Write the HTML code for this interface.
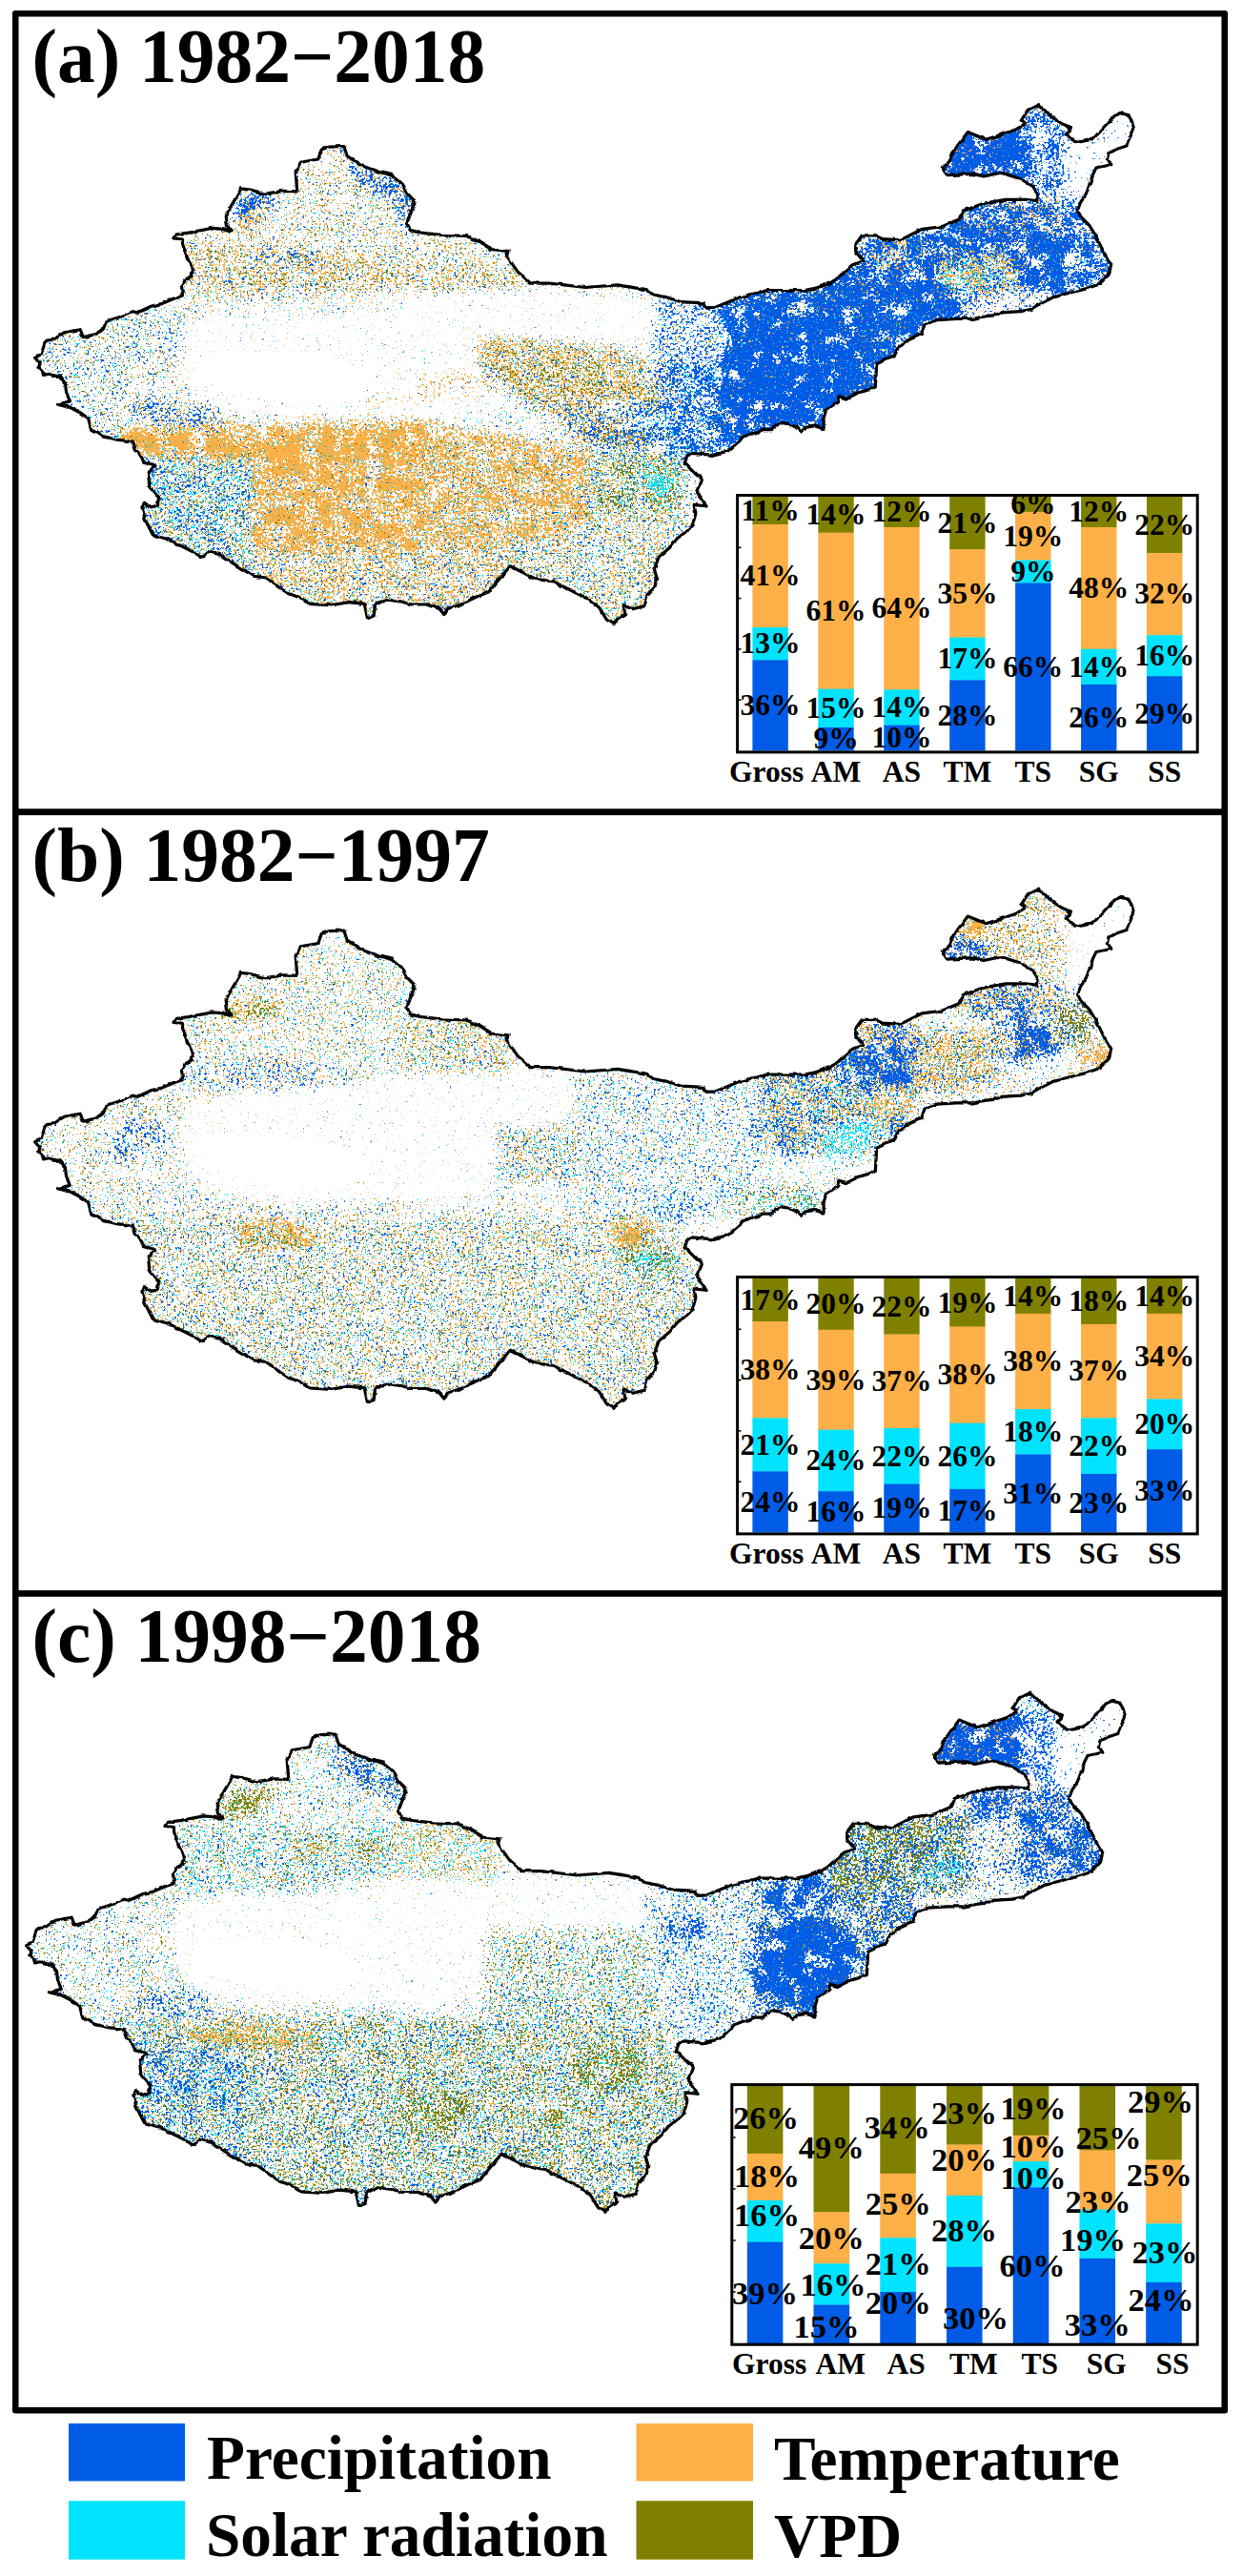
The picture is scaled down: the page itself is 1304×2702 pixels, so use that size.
<!DOCTYPE html>
<html><head><meta charset="utf-8"><title>figure</title>
<style>html,body{margin:0;padding:0;background:#fff;width:1304px;height:2702px;overflow:hidden}svg{display:block}</style>
</head><body>
<svg width="1304" height="2702" viewBox="0 0 1304 2702">
<rect width="1304" height="2702" fill="#fff"/>
<defs>
<clipPath id="mapclip"><path d="M36.6,375.3 L43.1,371.7 L46.7,359.6 L49.1,357.2 L56.4,356.0 L67.2,348.8 L84.1,345.6 L87.3,353.6 L102.2,350.0 L108.3,345.2 L111.9,336.7 L124.0,333.1 L138.4,326.6 L144.5,327.8 L159.0,321.0 L169.8,318.6 L184.3,312.6 L191.5,309.0 L190.3,299.3 L194.0,293.3 L201.2,289.6 L202.4,282.4 L196.4,270.3 L191.5,255.8 L191.5,251.0 L181.9,249.8 L184.3,246.2 L198.8,243.8 L222.9,239.4 L232.6,240.2 L241.0,242.6 L243.4,241.4 L237.4,237.7 L236.2,226.9 L253.1,197.9 L262.7,199.1 L278.4,203.2 L297.7,200.3 L311.8,200.8 L310.1,180.5 L315.2,170.4 L333.8,167.0 L337.2,156.9 L343.9,154.2 L360.8,153.5 L364.2,163.7 L379.4,173.8 L398.0,180.5 L411.5,183.9 L420.0,190.7 L426.7,202.5 L435.2,211.0 L431.8,221.1 L426.7,234.6 L430.1,241.4 L441.9,244.1 L462.2,246.4 L489.2,247.5 L502.7,253.2 L516.3,261.6 L533.1,263.3 L531.5,268.4 L543.3,285.3 L556.8,297.1 L577.1,297.1 L614.2,301.5 L648.0,298.8 L678.4,303.9 L685.2,309.0 L700.0,311.9 L714.5,316.7 L738.6,317.9 L741.0,322.8 L750.7,322.3 L770.0,314.3 L784.5,309.5 L806.2,304.6 L844.8,304.6 L864.1,299.8 L876.2,293.8 L885.8,285.3 L895.4,277.7 L905.7,273.8 L898.0,264.8 L896.7,257.1 L904.5,246.8 L918.6,246.8 L926.3,250.6 L944.4,251.9 L967.5,240.3 L988.1,237.7 L1006.2,230.0 L1011.3,221.0 L1031.9,213.3 L1055.1,209.4 L1075.7,209.4 L1087.3,210.7 L1088.5,203.0 L1083.4,195.3 L1070.5,187.5 L1049.9,181.1 L1031.9,185.0 L1021.6,182.4 L993.3,183.7 L989.4,176.0 L995.9,169.5 L999.7,159.2 L1015.2,138.6 L1034.5,146.3 L1049.9,141.2 L1065.4,136.0 L1075.7,129.6 L1071.8,125.7 L1078.2,115.4 L1089.7,109.7 L1093.3,113.3 L1103.9,123.0 L1114.5,130.1 L1123.4,133.6 L1121.6,138.1 L1118.1,140.7 L1125.1,146.9 L1134.0,148.7 L1146.4,146.0 L1157.0,134.5 L1165.8,124.8 L1174.7,118.6 L1183.5,120.4 L1187.1,126.5 L1189.7,135.4 L1186.2,142.5 L1181.8,153.1 L1171.2,156.6 L1164.1,160.2 L1162.3,167.3 L1165.8,172.6 L1158.8,174.3 L1149.9,176.1 L1146.4,183.2 L1142.8,193.8 L1139.3,204.4 L1134.0,211.5 L1130.4,220.4 L1134.0,227.4 L1142.8,236.3 L1149.1,246.8 L1158.1,264.8 L1165.8,277.7 L1163.2,288.0 L1152.9,298.3 L1137.5,303.4 L1116.9,308.5 L1104.0,312.4 L1091.1,318.8 L1083.4,324.0 L1070.5,326.6 L1049.9,327.9 L1047.4,330.4 L1034.5,331.7 L1021.6,334.3 L1003.6,334.3 L983.0,335.6 L970.3,339.6 L966.7,350.5 L953.4,356.5 L942.6,362.6 L938.9,372.2 L926.9,378.3 L919.6,381.9 L918.4,404.8 L912.4,408.4 L900.3,412.1 L888.3,418.1 L879.8,415.7 L878.6,421.7 L866.5,430.2 L864.1,438.6 L864.1,449.5 L854.5,447.0 L844.8,448.3 L840.0,453.1 L835.2,448.3 L827.9,444.6 L820.7,443.4 L813.4,447.0 L808.6,450.7 L799.0,450.7 L791.7,454.3 L779.6,457.9 L774.9,463.4 L763.6,473.1 L747.6,477.3 L726.6,475.4 L720.5,478.4 L718.1,485.7 L724.1,491.7 L731.4,498.9 L734.7,498.8 L736.3,503.7 L731.5,516.5 L736.3,524.6 L741.1,531.0 L728.2,529.4 L729.8,539.1 L726.6,550.3 L718.6,558.4 L710.5,564.8 L702.5,574.5 L691.2,584.1 L686.4,597.0 L689.6,608.3 L686.4,616.3 L678.4,626.0 L676.7,635.6 L663.9,638.8 L654.2,635.6 L655.8,643.7 L647.8,649.1 L644.6,654.9 L636.5,650.1 L628.5,637.2 L618.8,629.2 L599.5,619.5 L580.2,609.9 L560.9,607.3 L548.0,600.2 L535.2,593.8 L527.1,603.4 L519.1,613.1 L512.6,621.1 L499.8,626.0 L483.7,634.0 L469.2,638.8 L466.0,644.6 L461.1,638.8 L448.3,634.0 L432.2,634.0 L419.3,630.8 L404.7,628.5 L393.5,634.9 L391.9,646.2 L385.4,647.8 L382.2,633.3 L366.1,631.7 L346.8,634.9 L324.3,633.3 L314.6,626.9 L301.7,622.0 L292.1,615.6 L279.2,606.0 L266.4,604.3 L250.3,594.7 L231.0,581.8 L218.1,578.6 L211.6,585.0 L205.2,580.2 L192.3,573.8 L176.2,565.7 L160.2,560.9 L152.1,544.8 L148.9,531.9 L152.1,527.1 L158.5,531.9 L165.0,530.3 L166.6,522.3 L156.9,511.0 L155.3,494.9 L163.4,488.5 L150.5,483.7 L142.5,472.4 L139.2,462.8 L121.5,461.1 L108.7,457.9 L95.8,451.5 L92.6,438.6 L82.9,432.2 L73.3,427.4 L60.4,424.1 L73.3,420.9 L70.1,412.9 L69.7,412.7 L68.4,401.9 L63.6,395.8 L51.5,392.2 L45.5,393.4 L44.3,388.6 L40.7,385.0 L41.9,381.4 Z"/></clipPath>
<filter id="faB" filterUnits="userSpaceOnUse" x="25" y="100" width="1175" height="565" color-interpolation-filters="sRGB">
<feColorMatrix in="SourceGraphic" type="matrix" values="0 0 0 0 0 0 0 0 0 0 0 0 0 0 0 1 0 0 0 0" result="d0"/>
<feGaussianBlur in="d0" stdDeviation="6" result="d"/>
<feTurbulence type="fractalNoise" baseFrequency="0.35" numOctaves="2" seed="11" result="t"/>
<feColorMatrix in="t" type="matrix" values="0 0 0 0 0 0 0 0 0 0 0 0 0 0 0 1 0 0 0 0" result="ta0"/>
<feComponentTransfer in="ta0" result="ta"><feFuncA type="table" tableValues="0.000 0.000 0.000 0.000 0.000 0.000 0.000 0.001 0.003 0.007 0.014 0.028 0.047 0.072 0.111 0.153 0.210 0.266 0.329 0.409 0.476 0.593 0.674 0.737 0.800 0.848 0.888 0.926 0.952 0.970 0.985 0.992 0.996 0.998 1.000 1.000 1.000 1.000 1.000 1.000 1.000"/></feComponentTransfer>
<feTurbulence type="fractalNoise" baseFrequency="0.06" numOctaves="3" seed="18" result="lt"/>
<feColorMatrix in="lt" type="matrix" values="0 0 0 0 0 0 0 0 0 0 0 0 0 0 0 1.5 0 0 0 -0.25" result="lf"/>
<feComposite in="d" in2="lf" operator="arithmetic" k1="4" k2="0" k3="0" k4="0" result="dm"/>
<feComposite in="dm" in2="ta" operator="arithmetic" k1="0" k2="1" k3="-1" k4="0" result="df"/>
<feComponentTransfer in="df" result="m"><feFuncA type="linear" slope="60" intercept="0"/></feComponentTransfer>
<feFlood flood-color="#005ce6" result="fl"/>
<feComposite in="fl" in2="m" operator="in"/>
</filter>
<filter id="faO" filterUnits="userSpaceOnUse" x="25" y="100" width="1175" height="565" color-interpolation-filters="sRGB">
<feColorMatrix in="SourceGraphic" type="matrix" values="0 0 0 0 0 0 0 0 0 0 0 0 0 0 0 1 0 0 0 0" result="d0"/>
<feGaussianBlur in="d0" stdDeviation="6" result="d"/>
<feTurbulence type="fractalNoise" baseFrequency="0.35" numOctaves="2" seed="23" result="t"/>
<feColorMatrix in="t" type="matrix" values="0 0 0 0 0 0 0 0 0 0 0 0 0 0 0 1 0 0 0 0" result="ta0"/>
<feComponentTransfer in="ta0" result="ta"><feFuncA type="table" tableValues="0.000 0.000 0.000 0.000 0.000 0.000 0.000 0.001 0.003 0.007 0.014 0.028 0.047 0.072 0.111 0.153 0.210 0.266 0.329 0.409 0.476 0.593 0.674 0.737 0.800 0.848 0.888 0.926 0.952 0.970 0.985 0.992 0.996 0.998 1.000 1.000 1.000 1.000 1.000 1.000 1.000"/></feComponentTransfer>
<feTurbulence type="fractalNoise" baseFrequency="0.06" numOctaves="3" seed="30" result="lt"/>
<feColorMatrix in="lt" type="matrix" values="0 0 0 0 0 0 0 0 0 0 0 0 0 0 0 1.5 0 0 0 -0.25" result="lf"/>
<feComposite in="d" in2="lf" operator="arithmetic" k1="4" k2="0" k3="0" k4="0" result="dm"/>
<feComposite in="dm" in2="ta" operator="arithmetic" k1="0" k2="1" k3="-1" k4="0" result="df"/>
<feComponentTransfer in="df" result="m"><feFuncA type="linear" slope="60" intercept="0"/></feComponentTransfer>
<feFlood flood-color="#fdb047" result="fl"/>
<feComposite in="fl" in2="m" operator="in"/>
</filter>
<filter id="faL" filterUnits="userSpaceOnUse" x="25" y="100" width="1175" height="565" color-interpolation-filters="sRGB">
<feColorMatrix in="SourceGraphic" type="matrix" values="0 0 0 0 0 0 0 0 0 0 0 0 0 0 0 1 0 0 0 0" result="d0"/>
<feGaussianBlur in="d0" stdDeviation="6" result="d"/>
<feTurbulence type="fractalNoise" baseFrequency="0.4" numOctaves="2" seed="37" result="t"/>
<feColorMatrix in="t" type="matrix" values="0 0 0 0 0 0 0 0 0 0 0 0 0 0 0 1 0 0 0 0" result="ta0"/>
<feComponentTransfer in="ta0" result="ta"><feFuncA type="table" tableValues="0.000 0.000 0.000 0.000 0.000 0.000 0.000 0.001 0.003 0.007 0.014 0.028 0.047 0.072 0.111 0.153 0.210 0.266 0.329 0.409 0.476 0.593 0.674 0.737 0.800 0.848 0.888 0.926 0.952 0.970 0.985 0.992 0.996 0.998 1.000 1.000 1.000 1.000 1.000 1.000 1.000"/></feComponentTransfer>
<feTurbulence type="fractalNoise" baseFrequency="0.06" numOctaves="3" seed="44" result="lt"/>
<feColorMatrix in="lt" type="matrix" values="0 0 0 0 0 0 0 0 0 0 0 0 0 0 0 1.5 0 0 0 -0.25" result="lf"/>
<feComposite in="d" in2="lf" operator="arithmetic" k1="4" k2="0" k3="0" k4="0" result="dm"/>
<feComposite in="dm" in2="ta" operator="arithmetic" k1="0" k2="1" k3="-1" k4="0" result="df"/>
<feComponentTransfer in="df" result="m"><feFuncA type="linear" slope="60" intercept="0"/></feComponentTransfer>
<feFlood flood-color="#808000" result="fl"/>
<feComposite in="fl" in2="m" operator="in"/>
</filter>
<filter id="faC" filterUnits="userSpaceOnUse" x="25" y="100" width="1175" height="565" color-interpolation-filters="sRGB">
<feColorMatrix in="SourceGraphic" type="matrix" values="0 0 0 0 0 0 0 0 0 0 0 0 0 0 0 1 0 0 0 0" result="d0"/>
<feGaussianBlur in="d0" stdDeviation="6" result="d"/>
<feTurbulence type="fractalNoise" baseFrequency="0.4" numOctaves="2" seed="41" result="t"/>
<feColorMatrix in="t" type="matrix" values="0 0 0 0 0 0 0 0 0 0 0 0 0 0 0 1 0 0 0 0" result="ta0"/>
<feComponentTransfer in="ta0" result="ta"><feFuncA type="table" tableValues="0.000 0.000 0.000 0.000 0.000 0.000 0.000 0.001 0.003 0.007 0.014 0.028 0.047 0.072 0.111 0.153 0.210 0.266 0.329 0.409 0.476 0.593 0.674 0.737 0.800 0.848 0.888 0.926 0.952 0.970 0.985 0.992 0.996 0.998 1.000 1.000 1.000 1.000 1.000 1.000 1.000"/></feComponentTransfer>
<feTurbulence type="fractalNoise" baseFrequency="0.06" numOctaves="3" seed="48" result="lt"/>
<feColorMatrix in="lt" type="matrix" values="0 0 0 0 0 0 0 0 0 0 0 0 0 0 0 1.5 0 0 0 -0.25" result="lf"/>
<feComposite in="d" in2="lf" operator="arithmetic" k1="4" k2="0" k3="0" k4="0" result="dm"/>
<feComposite in="dm" in2="ta" operator="arithmetic" k1="0" k2="1" k3="-1" k4="0" result="df"/>
<feComponentTransfer in="df" result="m"><feFuncA type="linear" slope="60" intercept="0"/></feComponentTransfer>
<feFlood flood-color="#00e3ff" result="fl"/>
<feComposite in="fl" in2="m" operator="in"/>
</filter>
<filter id="fbB" filterUnits="userSpaceOnUse" x="25" y="100" width="1175" height="565" color-interpolation-filters="sRGB">
<feColorMatrix in="SourceGraphic" type="matrix" values="0 0 0 0 0 0 0 0 0 0 0 0 0 0 0 1 0 0 0 0" result="d0"/>
<feGaussianBlur in="d0" stdDeviation="6" result="d"/>
<feTurbulence type="fractalNoise" baseFrequency="0.35" numOctaves="2" seed="111" result="t"/>
<feColorMatrix in="t" type="matrix" values="0 0 0 0 0 0 0 0 0 0 0 0 0 0 0 1 0 0 0 0" result="ta0"/>
<feComponentTransfer in="ta0" result="ta"><feFuncA type="table" tableValues="0.000 0.000 0.000 0.000 0.000 0.000 0.000 0.001 0.003 0.007 0.014 0.028 0.047 0.072 0.111 0.153 0.210 0.266 0.329 0.409 0.476 0.593 0.674 0.737 0.800 0.848 0.888 0.926 0.952 0.970 0.985 0.992 0.996 0.998 1.000 1.000 1.000 1.000 1.000 1.000 1.000"/></feComponentTransfer>
<feTurbulence type="fractalNoise" baseFrequency="0.06" numOctaves="3" seed="118" result="lt"/>
<feColorMatrix in="lt" type="matrix" values="0 0 0 0 0 0 0 0 0 0 0 0 0 0 0 1.5 0 0 0 -0.25" result="lf"/>
<feComposite in="d" in2="lf" operator="arithmetic" k1="4" k2="0" k3="0" k4="0" result="dm"/>
<feComposite in="dm" in2="ta" operator="arithmetic" k1="0" k2="1" k3="-1" k4="0" result="df"/>
<feComponentTransfer in="df" result="m"><feFuncA type="linear" slope="60" intercept="0"/></feComponentTransfer>
<feFlood flood-color="#005ce6" result="fl"/>
<feComposite in="fl" in2="m" operator="in"/>
</filter>
<filter id="fbO" filterUnits="userSpaceOnUse" x="25" y="100" width="1175" height="565" color-interpolation-filters="sRGB">
<feColorMatrix in="SourceGraphic" type="matrix" values="0 0 0 0 0 0 0 0 0 0 0 0 0 0 0 1 0 0 0 0" result="d0"/>
<feGaussianBlur in="d0" stdDeviation="6" result="d"/>
<feTurbulence type="fractalNoise" baseFrequency="0.35" numOctaves="2" seed="123" result="t"/>
<feColorMatrix in="t" type="matrix" values="0 0 0 0 0 0 0 0 0 0 0 0 0 0 0 1 0 0 0 0" result="ta0"/>
<feComponentTransfer in="ta0" result="ta"><feFuncA type="table" tableValues="0.000 0.000 0.000 0.000 0.000 0.000 0.000 0.001 0.003 0.007 0.014 0.028 0.047 0.072 0.111 0.153 0.210 0.266 0.329 0.409 0.476 0.593 0.674 0.737 0.800 0.848 0.888 0.926 0.952 0.970 0.985 0.992 0.996 0.998 1.000 1.000 1.000 1.000 1.000 1.000 1.000"/></feComponentTransfer>
<feTurbulence type="fractalNoise" baseFrequency="0.06" numOctaves="3" seed="130" result="lt"/>
<feColorMatrix in="lt" type="matrix" values="0 0 0 0 0 0 0 0 0 0 0 0 0 0 0 1.5 0 0 0 -0.25" result="lf"/>
<feComposite in="d" in2="lf" operator="arithmetic" k1="4" k2="0" k3="0" k4="0" result="dm"/>
<feComposite in="dm" in2="ta" operator="arithmetic" k1="0" k2="1" k3="-1" k4="0" result="df"/>
<feComponentTransfer in="df" result="m"><feFuncA type="linear" slope="60" intercept="0"/></feComponentTransfer>
<feFlood flood-color="#fdb047" result="fl"/>
<feComposite in="fl" in2="m" operator="in"/>
</filter>
<filter id="fbL" filterUnits="userSpaceOnUse" x="25" y="100" width="1175" height="565" color-interpolation-filters="sRGB">
<feColorMatrix in="SourceGraphic" type="matrix" values="0 0 0 0 0 0 0 0 0 0 0 0 0 0 0 1 0 0 0 0" result="d0"/>
<feGaussianBlur in="d0" stdDeviation="6" result="d"/>
<feTurbulence type="fractalNoise" baseFrequency="0.4" numOctaves="2" seed="137" result="t"/>
<feColorMatrix in="t" type="matrix" values="0 0 0 0 0 0 0 0 0 0 0 0 0 0 0 1 0 0 0 0" result="ta0"/>
<feComponentTransfer in="ta0" result="ta"><feFuncA type="table" tableValues="0.000 0.000 0.000 0.000 0.000 0.000 0.000 0.001 0.003 0.007 0.014 0.028 0.047 0.072 0.111 0.153 0.210 0.266 0.329 0.409 0.476 0.593 0.674 0.737 0.800 0.848 0.888 0.926 0.952 0.970 0.985 0.992 0.996 0.998 1.000 1.000 1.000 1.000 1.000 1.000 1.000"/></feComponentTransfer>
<feTurbulence type="fractalNoise" baseFrequency="0.06" numOctaves="3" seed="144" result="lt"/>
<feColorMatrix in="lt" type="matrix" values="0 0 0 0 0 0 0 0 0 0 0 0 0 0 0 1.5 0 0 0 -0.25" result="lf"/>
<feComposite in="d" in2="lf" operator="arithmetic" k1="4" k2="0" k3="0" k4="0" result="dm"/>
<feComposite in="dm" in2="ta" operator="arithmetic" k1="0" k2="1" k3="-1" k4="0" result="df"/>
<feComponentTransfer in="df" result="m"><feFuncA type="linear" slope="60" intercept="0"/></feComponentTransfer>
<feFlood flood-color="#808000" result="fl"/>
<feComposite in="fl" in2="m" operator="in"/>
</filter>
<filter id="fbC" filterUnits="userSpaceOnUse" x="25" y="100" width="1175" height="565" color-interpolation-filters="sRGB">
<feColorMatrix in="SourceGraphic" type="matrix" values="0 0 0 0 0 0 0 0 0 0 0 0 0 0 0 1 0 0 0 0" result="d0"/>
<feGaussianBlur in="d0" stdDeviation="6" result="d"/>
<feTurbulence type="fractalNoise" baseFrequency="0.4" numOctaves="2" seed="141" result="t"/>
<feColorMatrix in="t" type="matrix" values="0 0 0 0 0 0 0 0 0 0 0 0 0 0 0 1 0 0 0 0" result="ta0"/>
<feComponentTransfer in="ta0" result="ta"><feFuncA type="table" tableValues="0.000 0.000 0.000 0.000 0.000 0.000 0.000 0.001 0.003 0.007 0.014 0.028 0.047 0.072 0.111 0.153 0.210 0.266 0.329 0.409 0.476 0.593 0.674 0.737 0.800 0.848 0.888 0.926 0.952 0.970 0.985 0.992 0.996 0.998 1.000 1.000 1.000 1.000 1.000 1.000 1.000"/></feComponentTransfer>
<feTurbulence type="fractalNoise" baseFrequency="0.06" numOctaves="3" seed="148" result="lt"/>
<feColorMatrix in="lt" type="matrix" values="0 0 0 0 0 0 0 0 0 0 0 0 0 0 0 1.5 0 0 0 -0.25" result="lf"/>
<feComposite in="d" in2="lf" operator="arithmetic" k1="4" k2="0" k3="0" k4="0" result="dm"/>
<feComposite in="dm" in2="ta" operator="arithmetic" k1="0" k2="1" k3="-1" k4="0" result="df"/>
<feComponentTransfer in="df" result="m"><feFuncA type="linear" slope="60" intercept="0"/></feComponentTransfer>
<feFlood flood-color="#00e3ff" result="fl"/>
<feComposite in="fl" in2="m" operator="in"/>
</filter>
<filter id="fcB" filterUnits="userSpaceOnUse" x="25" y="100" width="1175" height="565" color-interpolation-filters="sRGB">
<feColorMatrix in="SourceGraphic" type="matrix" values="0 0 0 0 0 0 0 0 0 0 0 0 0 0 0 1 0 0 0 0" result="d0"/>
<feGaussianBlur in="d0" stdDeviation="6" result="d"/>
<feTurbulence type="fractalNoise" baseFrequency="0.35" numOctaves="2" seed="211" result="t"/>
<feColorMatrix in="t" type="matrix" values="0 0 0 0 0 0 0 0 0 0 0 0 0 0 0 1 0 0 0 0" result="ta0"/>
<feComponentTransfer in="ta0" result="ta"><feFuncA type="table" tableValues="0.000 0.000 0.000 0.000 0.000 0.000 0.000 0.001 0.003 0.007 0.014 0.028 0.047 0.072 0.111 0.153 0.210 0.266 0.329 0.409 0.476 0.593 0.674 0.737 0.800 0.848 0.888 0.926 0.952 0.970 0.985 0.992 0.996 0.998 1.000 1.000 1.000 1.000 1.000 1.000 1.000"/></feComponentTransfer>
<feTurbulence type="fractalNoise" baseFrequency="0.06" numOctaves="3" seed="218" result="lt"/>
<feColorMatrix in="lt" type="matrix" values="0 0 0 0 0 0 0 0 0 0 0 0 0 0 0 1.5 0 0 0 -0.25" result="lf"/>
<feComposite in="d" in2="lf" operator="arithmetic" k1="4" k2="0" k3="0" k4="0" result="dm"/>
<feComposite in="dm" in2="ta" operator="arithmetic" k1="0" k2="1" k3="-1" k4="0" result="df"/>
<feComponentTransfer in="df" result="m"><feFuncA type="linear" slope="60" intercept="0"/></feComponentTransfer>
<feFlood flood-color="#005ce6" result="fl"/>
<feComposite in="fl" in2="m" operator="in"/>
</filter>
<filter id="fcO" filterUnits="userSpaceOnUse" x="25" y="100" width="1175" height="565" color-interpolation-filters="sRGB">
<feColorMatrix in="SourceGraphic" type="matrix" values="0 0 0 0 0 0 0 0 0 0 0 0 0 0 0 1 0 0 0 0" result="d0"/>
<feGaussianBlur in="d0" stdDeviation="6" result="d"/>
<feTurbulence type="fractalNoise" baseFrequency="0.35" numOctaves="2" seed="223" result="t"/>
<feColorMatrix in="t" type="matrix" values="0 0 0 0 0 0 0 0 0 0 0 0 0 0 0 1 0 0 0 0" result="ta0"/>
<feComponentTransfer in="ta0" result="ta"><feFuncA type="table" tableValues="0.000 0.000 0.000 0.000 0.000 0.000 0.000 0.001 0.003 0.007 0.014 0.028 0.047 0.072 0.111 0.153 0.210 0.266 0.329 0.409 0.476 0.593 0.674 0.737 0.800 0.848 0.888 0.926 0.952 0.970 0.985 0.992 0.996 0.998 1.000 1.000 1.000 1.000 1.000 1.000 1.000"/></feComponentTransfer>
<feTurbulence type="fractalNoise" baseFrequency="0.06" numOctaves="3" seed="230" result="lt"/>
<feColorMatrix in="lt" type="matrix" values="0 0 0 0 0 0 0 0 0 0 0 0 0 0 0 1.5 0 0 0 -0.25" result="lf"/>
<feComposite in="d" in2="lf" operator="arithmetic" k1="4" k2="0" k3="0" k4="0" result="dm"/>
<feComposite in="dm" in2="ta" operator="arithmetic" k1="0" k2="1" k3="-1" k4="0" result="df"/>
<feComponentTransfer in="df" result="m"><feFuncA type="linear" slope="60" intercept="0"/></feComponentTransfer>
<feFlood flood-color="#fdb047" result="fl"/>
<feComposite in="fl" in2="m" operator="in"/>
</filter>
<filter id="fcL" filterUnits="userSpaceOnUse" x="25" y="100" width="1175" height="565" color-interpolation-filters="sRGB">
<feColorMatrix in="SourceGraphic" type="matrix" values="0 0 0 0 0 0 0 0 0 0 0 0 0 0 0 1 0 0 0 0" result="d0"/>
<feGaussianBlur in="d0" stdDeviation="6" result="d"/>
<feTurbulence type="fractalNoise" baseFrequency="0.4" numOctaves="2" seed="237" result="t"/>
<feColorMatrix in="t" type="matrix" values="0 0 0 0 0 0 0 0 0 0 0 0 0 0 0 1 0 0 0 0" result="ta0"/>
<feComponentTransfer in="ta0" result="ta"><feFuncA type="table" tableValues="0.000 0.000 0.000 0.000 0.000 0.000 0.000 0.001 0.003 0.007 0.014 0.028 0.047 0.072 0.111 0.153 0.210 0.266 0.329 0.409 0.476 0.593 0.674 0.737 0.800 0.848 0.888 0.926 0.952 0.970 0.985 0.992 0.996 0.998 1.000 1.000 1.000 1.000 1.000 1.000 1.000"/></feComponentTransfer>
<feTurbulence type="fractalNoise" baseFrequency="0.06" numOctaves="3" seed="244" result="lt"/>
<feColorMatrix in="lt" type="matrix" values="0 0 0 0 0 0 0 0 0 0 0 0 0 0 0 1.5 0 0 0 -0.25" result="lf"/>
<feComposite in="d" in2="lf" operator="arithmetic" k1="4" k2="0" k3="0" k4="0" result="dm"/>
<feComposite in="dm" in2="ta" operator="arithmetic" k1="0" k2="1" k3="-1" k4="0" result="df"/>
<feComponentTransfer in="df" result="m"><feFuncA type="linear" slope="60" intercept="0"/></feComponentTransfer>
<feFlood flood-color="#808000" result="fl"/>
<feComposite in="fl" in2="m" operator="in"/>
</filter>
<filter id="fcC" filterUnits="userSpaceOnUse" x="25" y="100" width="1175" height="565" color-interpolation-filters="sRGB">
<feColorMatrix in="SourceGraphic" type="matrix" values="0 0 0 0 0 0 0 0 0 0 0 0 0 0 0 1 0 0 0 0" result="d0"/>
<feGaussianBlur in="d0" stdDeviation="6" result="d"/>
<feTurbulence type="fractalNoise" baseFrequency="0.4" numOctaves="2" seed="241" result="t"/>
<feColorMatrix in="t" type="matrix" values="0 0 0 0 0 0 0 0 0 0 0 0 0 0 0 1 0 0 0 0" result="ta0"/>
<feComponentTransfer in="ta0" result="ta"><feFuncA type="table" tableValues="0.000 0.000 0.000 0.000 0.000 0.000 0.000 0.001 0.003 0.007 0.014 0.028 0.047 0.072 0.111 0.153 0.210 0.266 0.329 0.409 0.476 0.593 0.674 0.737 0.800 0.848 0.888 0.926 0.952 0.970 0.985 0.992 0.996 0.998 1.000 1.000 1.000 1.000 1.000 1.000 1.000"/></feComponentTransfer>
<feTurbulence type="fractalNoise" baseFrequency="0.06" numOctaves="3" seed="248" result="lt"/>
<feColorMatrix in="lt" type="matrix" values="0 0 0 0 0 0 0 0 0 0 0 0 0 0 0 1.5 0 0 0 -0.25" result="lf"/>
<feComposite in="d" in2="lf" operator="arithmetic" k1="4" k2="0" k3="0" k4="0" result="dm"/>
<feComposite in="dm" in2="ta" operator="arithmetic" k1="0" k2="1" k3="-1" k4="0" result="df"/>
<feComponentTransfer in="df" result="m"><feFuncA type="linear" slope="60" intercept="0"/></feComponentTransfer>
<feFlood flood-color="#00e3ff" result="fl"/>
<feComposite in="fl" in2="m" operator="in"/>
</filter>
<filter id="jag" filterUnits="userSpaceOnUse" x="0" y="0" width="1304" height="2702"><feTurbulence type="fractalNoise" baseFrequency="0.12" numOctaves="2" seed="5" result="n"/><feDisplacementMap in="SourceGraphic" in2="n" scale="3.5" xChannelSelector="R" yChannelSelector="G"/></filter>
</defs>
<g transform="translate(0,0)">
<g clip-path="url(#mapclip)">
<g filter="url(#faB)">
<rect x="25" y="100" width="1175" height="565" fill="#000"/>
<path d="M20.0,100.0 L1200.0,100.0 L1200.0,665.0 L20.0,665.0 Z" fill="rgb(4,0,0)"/>
<path d="M30.0,330.0 L200.0,320.0 L200.0,470.0 L140.0,470.0 L30.0,420.0 Z" fill="rgb(10,0,0)"/>
<path d="M190.0,235.0 L300.0,195.0 L340.0,150.0 L440.0,180.0 L440.0,245.0 L540.0,255.0 L545.0,300.0 L420.0,300.0 L300.0,335.0 L190.0,330.0 Z" fill="rgb(5,0,0)"/>
<path d="M310.0,159.0 L360.0,150.0 L435.0,205.0 L430.0,241.0 L310.0,241.0 Z" fill="rgb(5,0,0)"/>
<path d="M190.0,285.0 L260.0,290.0 L340.0,300.0 L440.0,305.0 L520.0,300.0" fill="none" stroke="rgb(10,0,0)" stroke-width="5" stroke-linecap="round" stroke-linejoin="round"/>
<path d="M195.0,258.0 L330.0,262.0 L450.0,272.0 L545.0,282.0 L545.0,302.0 L450.0,300.0 L330.0,305.0 L195.0,300.0 Z" fill="rgb(10,0,0)"/>
<path d="M200.0,262.0 L260.0,268.0 L330.0,285.0 L420.0,290.0" fill="none" stroke="rgb(10,0,0)" stroke-width="6" stroke-linecap="round" stroke-linejoin="round"/>
<path d="M210.0,300.0 L280.0,305.0 L350.0,300.0" fill="none" stroke="rgb(19,0,0)" stroke-width="6" stroke-linecap="round" stroke-linejoin="round"/>
<path d="M365.0,165.0 L400.0,175.0 L435.0,205.0 L430.0,235.0 L410.0,215.0 L370.0,185.0 Z" fill="rgb(51,0,0)"/>
<ellipse cx="268" cy="214" rx="22" ry="13" transform="rotate(-30 268 214)" fill="rgb(89,0,0)"/>
<ellipse cx="258" cy="234" rx="12" ry="7" transform="rotate(0 258 234)" fill="rgb(13,0,0)"/>
<path d="M270.0,268.0 L300.0,270.0 L330.0,268.0" fill="none" stroke="rgb(89,0,0)" stroke-width="5" stroke-linecap="round" stroke-linejoin="round"/>
<path d="M138.0,380.0 L425.0,380.0 L425.0,444.0 L138.0,444.0 Z" fill="rgb(5,0,0)"/>
<ellipse cx="186" cy="437" rx="50" ry="14" transform="rotate(10 186 437)" fill="rgb(36,0,0)"/>
<path d="M195.0,335.0 L260.0,318.0 L330.0,318.0 L420.0,305.0 L540.0,302.0 L640.0,310.0 L700.0,316.0 L730.0,330.0 L700.0,356.0 L620.0,362.0 L560.0,372.0 L540.0,415.0 L480.0,438.0 L380.0,440.0 L300.0,440.0 L230.0,432.0 L200.0,410.0 L185.0,375.0 Z" fill="rgb(1,0,0)"/>
<ellipse cx="300" cy="395" rx="90" ry="25" transform="rotate(5 300 395)" fill="rgb(0,0,0)"/>
<path d="M440.0,400.0 L500.0,395.0 L560.0,385.0" fill="none" stroke="rgb(4,0,0)" stroke-width="4" stroke-linecap="round" stroke-linejoin="round"/>
<path d="M380.0,422.0 L450.0,414.0 L520.0,405.0" fill="none" stroke="rgb(4,0,0)" stroke-width="4" stroke-linecap="round" stroke-linejoin="round"/>
<path d="M250.0,330.0 L330.0,325.0 L420.0,318.0" fill="none" stroke="rgb(8,0,0)" stroke-width="4" stroke-linecap="round" stroke-linejoin="round"/>
<path d="M130.0,452.0 L430.0,445.0 L520.0,460.0 L600.0,468.0 L640.0,480.0 L640.0,505.0 L430.0,490.0 L130.0,490.0 Z" fill="rgb(6,0,0)"/>
<path d="M120.0,477.0 L270.0,480.0 L270.0,600.0 L200.0,620.0 L120.0,590.0 Z" fill="rgb(28,0,0)"/>
<path d="M266.0,489.0 L640.0,500.0 L645.0,530.0 L580.0,560.0 L420.0,580.0 L266.0,575.0 Z" fill="rgb(10,0,0)"/>
<path d="M266.0,575.0 L420.0,580.0 L560.0,560.0 L610.0,530.0 L640.0,540.0 L600.0,640.0 L420.0,670.0 L266.0,650.0 Z" fill="rgb(14,0,0)"/>
<path d="M540.0,575.0 L620.0,545.0 L720.0,540.0 L720.0,680.0 L540.0,680.0 Z" fill="rgb(11,0,0)"/>
<path d="M440.0,458.0 L620.0,470.0 L625.0,540.0 L580.0,565.0 L440.0,575.0 Z" fill="rgb(11,0,0)"/>
<ellipse cx="640" cy="462" rx="40" ry="10" transform="rotate(15 640 462)" fill="rgb(51,0,0)"/>
<path d="M505.0,355.0 L640.0,365.0 L715.0,400.0 L715.0,460.0 L640.0,465.0 L560.0,430.0 L505.0,390.0 Z" fill="rgb(15,0,0)"/>
<path d="M500.0,362.0 L560.0,368.0 L620.0,378.0 L670.0,392.0" fill="none" stroke="rgb(13,0,0)" stroke-width="5" stroke-linecap="round" stroke-linejoin="round"/>
<path d="M510.0,375.0 L580.0,386.0 L650.0,405.0 L712.0,428.0" fill="none" stroke="rgb(19,0,0)" stroke-width="5" stroke-linecap="round" stroke-linejoin="round"/>
<path d="M525.0,392.0 L590.0,405.0 L660.0,428.0 L705.0,448.0" fill="none" stroke="rgb(13,0,0)" stroke-width="4" stroke-linecap="round" stroke-linejoin="round"/>
<path d="M545.0,410.0 L600.0,428.0 L640.0,446.0" fill="none" stroke="rgb(26,0,0)" stroke-width="4" stroke-linecap="round" stroke-linejoin="round"/>
<ellipse cx="640" cy="430" rx="17" ry="8" transform="rotate(0 640 430)" fill="rgb(0,0,0)"/>
<ellipse cx="635" cy="448" rx="50" ry="15" transform="rotate(20 635 448)" fill="rgb(45,0,0)"/>
<ellipse cx="690" cy="445" rx="45" ry="18" transform="rotate(15 690 445)" fill="rgb(57,0,0)"/>
<path d="M618.0,477.0 L715.0,477.0 L715.0,541.0 L618.0,541.0 Z" fill="rgb(15,0,0)"/>
<path d="M690.0,305.0 L740.0,315.0 L790.0,310.0 L800.0,420.0 L760.0,470.0 L720.0,475.0 L690.0,420.0 Z" fill="rgb(31,0,0)"/>
<path d="M695.0,380.0 L760.0,380.0 L760.0,485.0 L700.0,485.0 Z" fill="rgb(64,0,0)"/>
<path d="M760.0,318.0 L800.0,303.0 L862.0,300.0 L900.0,278.0 L905.0,250.0 L950.0,245.0 L1000.0,232.0 L1030.0,213.0 L1085.0,208.0 L1130.0,215.0 L1150.0,248.0 L1175.0,282.0 L1150.0,305.0 L1100.0,318.0 L1040.0,332.0 L970.0,342.0 L935.0,378.0 L918.0,408.0 L880.0,425.0 L866.0,455.0 L830.0,452.0 L790.0,460.0 L760.0,470.0 Z" fill="rgb(128,0,0)"/>
<ellipse cx="830" cy="390" rx="70" ry="50" transform="rotate(-20 830 390)" fill="rgb(166,0,0)"/>
<path d="M899.0,245.0 L970.0,245.0 L970.0,285.0 L899.0,285.0 Z" fill="rgb(76,0,0)"/>
<path d="M985.0,265.0 L1066.0,265.0 L1070.0,309.0 L1005.0,306.0 L985.0,300.0 Z" fill="rgb(57,0,0)"/>
<ellipse cx="1010" cy="292" rx="25" ry="10" transform="rotate(-10 1010 292)" fill="rgb(38,0,0)"/>
<ellipse cx="1060" cy="318" rx="55" ry="14" transform="rotate(-8 1060 318)" fill="rgb(13,0,0)"/>
<path d="M1005.0,209.0 L1115.0,209.0 L1115.0,245.0 L1005.0,245.0 Z" fill="rgb(83,0,0)"/>
<path d="M1115.0,213.0 L1170.0,213.0 L1170.0,306.0 L1115.0,306.0 Z" fill="rgb(76,0,0)"/>
<path d="M992.0,186.0 L988.0,170.0 L1015.0,136.0 L1035.0,144.0 L1065.0,134.0 L1076.0,125.0 L1078.0,190.0 L1050.0,183.0 L1030.0,188.0 Z" fill="rgb(178,0,0)"/>
<ellipse cx="1030" cy="158" rx="14" ry="6" transform="rotate(-30 1030 158)" fill="rgb(0,0,0)"/>
<path d="M1076.0,115.0 L1115.0,119.0 L1115.0,197.0 L1090.0,215.0 L1076.0,197.0 Z" fill="rgb(51,0,0)"/>
<path d="M1115.0,100.0 L1200.0,100.0 L1200.0,213.0 L1115.0,213.0 Z" fill="rgb(4,0,0)"/>
</g>
<g filter="url(#faO)">
<rect x="25" y="100" width="1175" height="565" fill="#000"/>
<path d="M20.0,100.0 L1200.0,100.0 L1200.0,665.0 L20.0,665.0 Z" fill="rgb(3,0,0)"/>
<path d="M30.0,330.0 L200.0,320.0 L200.0,470.0 L140.0,470.0 L30.0,420.0 Z" fill="rgb(5,0,0)"/>
<path d="M190.0,235.0 L300.0,195.0 L340.0,150.0 L440.0,180.0 L440.0,245.0 L540.0,255.0 L545.0,300.0 L420.0,300.0 L300.0,335.0 L190.0,330.0 Z" fill="rgb(9,0,0)"/>
<path d="M310.0,159.0 L360.0,150.0 L435.0,205.0 L430.0,241.0 L310.0,241.0 Z" fill="rgb(9,0,0)"/>
<path d="M190.0,285.0 L260.0,290.0 L340.0,300.0 L440.0,305.0 L520.0,300.0" fill="none" stroke="rgb(26,0,0)" stroke-width="5" stroke-linecap="round" stroke-linejoin="round"/>
<path d="M195.0,258.0 L330.0,262.0 L450.0,272.0 L545.0,282.0 L545.0,302.0 L450.0,300.0 L330.0,305.0 L195.0,300.0 Z" fill="rgb(23,0,0)"/>
<path d="M200.0,262.0 L260.0,268.0 L330.0,285.0 L420.0,290.0" fill="none" stroke="rgb(41,0,0)" stroke-width="6" stroke-linecap="round" stroke-linejoin="round"/>
<path d="M210.0,300.0 L280.0,305.0 L350.0,300.0" fill="none" stroke="rgb(26,0,0)" stroke-width="6" stroke-linecap="round" stroke-linejoin="round"/>
<path d="M365.0,165.0 L400.0,175.0 L435.0,205.0 L430.0,235.0 L410.0,215.0 L370.0,185.0 Z" fill="rgb(13,0,0)"/>
<ellipse cx="268" cy="214" rx="22" ry="13" transform="rotate(-30 268 214)" fill="rgb(19,0,0)"/>
<ellipse cx="258" cy="234" rx="12" ry="7" transform="rotate(0 258 234)" fill="rgb(70,0,0)"/>
<path d="M138.0,380.0 L425.0,380.0 L425.0,444.0 L138.0,444.0 Z" fill="rgb(6,0,0)"/>
<ellipse cx="186" cy="437" rx="50" ry="14" transform="rotate(10 186 437)" fill="rgb(6,0,0)"/>
<path d="M195.0,335.0 L260.0,318.0 L330.0,318.0 L420.0,305.0 L540.0,302.0 L640.0,310.0 L700.0,316.0 L730.0,330.0 L700.0,356.0 L620.0,362.0 L560.0,372.0 L540.0,415.0 L480.0,438.0 L380.0,440.0 L300.0,440.0 L230.0,432.0 L200.0,410.0 L185.0,375.0 Z" fill="rgb(1,0,0)"/>
<ellipse cx="300" cy="395" rx="90" ry="25" transform="rotate(5 300 395)" fill="rgb(0,0,0)"/>
<path d="M440.0,400.0 L500.0,395.0 L560.0,385.0" fill="none" stroke="rgb(38,0,0)" stroke-width="4" stroke-linecap="round" stroke-linejoin="round"/>
<path d="M380.0,422.0 L450.0,414.0 L520.0,405.0" fill="none" stroke="rgb(32,0,0)" stroke-width="4" stroke-linecap="round" stroke-linejoin="round"/>
<path d="M250.0,330.0 L330.0,325.0 L420.0,318.0" fill="none" stroke="rgb(10,0,0)" stroke-width="4" stroke-linecap="round" stroke-linejoin="round"/>
<path d="M130.0,452.0 L430.0,445.0 L520.0,460.0 L600.0,468.0 L640.0,480.0 L640.0,505.0 L430.0,490.0 L130.0,490.0 Z" fill="rgb(108,0,0)"/>
<path d="M120.0,477.0 L270.0,480.0 L270.0,600.0 L200.0,620.0 L120.0,590.0 Z" fill="rgb(13,0,0)"/>
<path d="M266.0,489.0 L640.0,500.0 L645.0,530.0 L580.0,560.0 L420.0,580.0 L266.0,575.0 Z" fill="rgb(84,0,0)"/>
<path d="M266.0,575.0 L420.0,580.0 L560.0,560.0 L610.0,530.0 L640.0,540.0 L600.0,640.0 L420.0,670.0 L266.0,650.0 Z" fill="rgb(32,0,0)"/>
<path d="M540.0,575.0 L620.0,545.0 L720.0,540.0 L720.0,680.0 L540.0,680.0 Z" fill="rgb(17,0,0)"/>
<path d="M440.0,458.0 L620.0,470.0 L625.0,540.0 L580.0,565.0 L440.0,575.0 Z" fill="rgb(64,0,0)"/>
<ellipse cx="640" cy="462" rx="40" ry="10" transform="rotate(15 640 462)" fill="rgb(19,0,0)"/>
<path d="M505.0,355.0 L640.0,365.0 L715.0,400.0 L715.0,460.0 L640.0,465.0 L560.0,430.0 L505.0,390.0 Z" fill="rgb(28,0,0)"/>
<path d="M500.0,362.0 L560.0,368.0 L620.0,378.0 L670.0,392.0" fill="none" stroke="rgb(70,0,0)" stroke-width="5" stroke-linecap="round" stroke-linejoin="round"/>
<path d="M510.0,375.0 L580.0,386.0 L650.0,405.0 L712.0,428.0" fill="none" stroke="rgb(70,0,0)" stroke-width="5" stroke-linecap="round" stroke-linejoin="round"/>
<path d="M525.0,392.0 L590.0,405.0 L660.0,428.0 L705.0,448.0" fill="none" stroke="rgb(57,0,0)" stroke-width="4" stroke-linecap="round" stroke-linejoin="round"/>
<path d="M545.0,410.0 L600.0,428.0 L640.0,446.0" fill="none" stroke="rgb(51,0,0)" stroke-width="4" stroke-linecap="round" stroke-linejoin="round"/>
<ellipse cx="640" cy="430" rx="17" ry="8" transform="rotate(0 640 430)" fill="rgb(0,0,0)"/>
<ellipse cx="690" cy="445" rx="45" ry="18" transform="rotate(15 690 445)" fill="rgb(6,0,0)"/>
<path d="M618.0,477.0 L715.0,477.0 L715.0,541.0 L618.0,541.0 Z" fill="rgb(19,0,0)"/>
<path d="M690.0,305.0 L740.0,315.0 L790.0,310.0 L800.0,420.0 L760.0,470.0 L720.0,475.0 L690.0,420.0 Z" fill="rgb(4,0,0)"/>
<path d="M695.0,380.0 L760.0,380.0 L760.0,485.0 L700.0,485.0 Z" fill="rgb(4,0,0)"/>
<path d="M760.0,318.0 L800.0,303.0 L862.0,300.0 L900.0,278.0 L905.0,250.0 L950.0,245.0 L1000.0,232.0 L1030.0,213.0 L1085.0,208.0 L1130.0,215.0 L1150.0,248.0 L1175.0,282.0 L1150.0,305.0 L1100.0,318.0 L1040.0,332.0 L970.0,342.0 L935.0,378.0 L918.0,408.0 L880.0,425.0 L866.0,455.0 L830.0,452.0 L790.0,460.0 L760.0,470.0 Z" fill="rgb(5,0,0)"/>
<ellipse cx="830" cy="390" rx="70" ry="50" transform="rotate(-20 830 390)" fill="rgb(3,0,0)"/>
<path d="M899.0,245.0 L970.0,245.0 L970.0,285.0 L899.0,285.0 Z" fill="rgb(19,0,0)"/>
<path d="M985.0,265.0 L1066.0,265.0 L1070.0,309.0 L1005.0,306.0 L985.0,300.0 Z" fill="rgb(36,0,0)"/>
<ellipse cx="1010" cy="292" rx="25" ry="10" transform="rotate(-10 1010 292)" fill="rgb(45,0,0)"/>
<ellipse cx="1060" cy="318" rx="55" ry="14" transform="rotate(-8 1060 318)" fill="rgb(6,0,0)"/>
<path d="M1005.0,209.0 L1115.0,209.0 L1115.0,245.0 L1005.0,245.0 Z" fill="rgb(15,0,0)"/>
<path d="M1115.0,213.0 L1170.0,213.0 L1170.0,306.0 L1115.0,306.0 Z" fill="rgb(5,0,0)"/>
<path d="M992.0,186.0 L988.0,170.0 L1015.0,136.0 L1035.0,144.0 L1065.0,134.0 L1076.0,125.0 L1078.0,190.0 L1050.0,183.0 L1030.0,188.0 Z" fill="rgb(5,0,0)"/>
<ellipse cx="1030" cy="158" rx="14" ry="6" transform="rotate(-30 1030 158)" fill="rgb(0,0,0)"/>
<path d="M1076.0,115.0 L1115.0,119.0 L1115.0,197.0 L1090.0,215.0 L1076.0,197.0 Z" fill="rgb(3,0,0)"/>
<path d="M1115.0,100.0 L1200.0,100.0 L1200.0,213.0 L1115.0,213.0 Z" fill="rgb(0,0,0)"/>
</g>
<g filter="url(#faL)">
<rect x="25" y="100" width="1175" height="565" fill="#000"/>
<path d="M20.0,100.0 L1200.0,100.0 L1200.0,665.0 L20.0,665.0 Z" fill="rgb(3,0,0)"/>
<path d="M30.0,330.0 L200.0,320.0 L200.0,470.0 L140.0,470.0 L30.0,420.0 Z" fill="rgb(6,0,0)"/>
<path d="M190.0,235.0 L300.0,195.0 L340.0,150.0 L440.0,180.0 L440.0,245.0 L540.0,255.0 L545.0,300.0 L420.0,300.0 L300.0,335.0 L190.0,330.0 Z" fill="rgb(5,0,0)"/>
<path d="M310.0,159.0 L360.0,150.0 L435.0,205.0 L430.0,241.0 L310.0,241.0 Z" fill="rgb(6,0,0)"/>
<path d="M190.0,285.0 L260.0,290.0 L340.0,300.0 L440.0,305.0 L520.0,300.0" fill="none" stroke="rgb(15,0,0)" stroke-width="5" stroke-linecap="round" stroke-linejoin="round"/>
<path d="M195.0,258.0 L330.0,262.0 L450.0,272.0 L545.0,282.0 L545.0,302.0 L450.0,300.0 L330.0,305.0 L195.0,300.0 Z" fill="rgb(11,0,0)"/>
<path d="M200.0,262.0 L260.0,268.0 L330.0,285.0 L420.0,290.0" fill="none" stroke="rgb(15,0,0)" stroke-width="6" stroke-linecap="round" stroke-linejoin="round"/>
<path d="M210.0,300.0 L280.0,305.0 L350.0,300.0" fill="none" stroke="rgb(13,0,0)" stroke-width="6" stroke-linecap="round" stroke-linejoin="round"/>
<path d="M138.0,380.0 L425.0,380.0 L425.0,444.0 L138.0,444.0 Z" fill="rgb(4,0,0)"/>
<ellipse cx="186" cy="437" rx="50" ry="14" transform="rotate(10 186 437)" fill="rgb(10,0,0)"/>
<path d="M195.0,335.0 L260.0,318.0 L330.0,318.0 L420.0,305.0 L540.0,302.0 L640.0,310.0 L700.0,316.0 L730.0,330.0 L700.0,356.0 L620.0,362.0 L560.0,372.0 L540.0,415.0 L480.0,438.0 L380.0,440.0 L300.0,440.0 L230.0,432.0 L200.0,410.0 L185.0,375.0 Z" fill="rgb(1,0,0)"/>
<ellipse cx="300" cy="395" rx="90" ry="25" transform="rotate(5 300 395)" fill="rgb(0,0,0)"/>
<path d="M440.0,400.0 L500.0,395.0 L560.0,385.0" fill="none" stroke="rgb(13,0,0)" stroke-width="4" stroke-linecap="round" stroke-linejoin="round"/>
<path d="M380.0,422.0 L450.0,414.0 L520.0,405.0" fill="none" stroke="rgb(6,0,0)" stroke-width="4" stroke-linecap="round" stroke-linejoin="round"/>
<path d="M250.0,330.0 L330.0,325.0 L420.0,318.0" fill="none" stroke="rgb(5,0,0)" stroke-width="4" stroke-linecap="round" stroke-linejoin="round"/>
<path d="M130.0,452.0 L430.0,445.0 L520.0,460.0 L600.0,468.0 L640.0,480.0 L640.0,505.0 L430.0,490.0 L130.0,490.0 Z" fill="rgb(5,0,0)"/>
<path d="M120.0,477.0 L270.0,480.0 L270.0,600.0 L200.0,620.0 L120.0,590.0 Z" fill="rgb(9,0,0)"/>
<path d="M266.0,489.0 L640.0,500.0 L645.0,530.0 L580.0,560.0 L420.0,580.0 L266.0,575.0 Z" fill="rgb(5,0,0)"/>
<path d="M266.0,575.0 L420.0,580.0 L560.0,560.0 L610.0,530.0 L640.0,540.0 L600.0,640.0 L420.0,670.0 L266.0,650.0 Z" fill="rgb(6,0,0)"/>
<path d="M540.0,575.0 L620.0,545.0 L720.0,540.0 L720.0,680.0 L540.0,680.0 Z" fill="rgb(8,0,0)"/>
<path d="M440.0,458.0 L620.0,470.0 L625.0,540.0 L580.0,565.0 L440.0,575.0 Z" fill="rgb(6,0,0)"/>
<ellipse cx="640" cy="462" rx="40" ry="10" transform="rotate(15 640 462)" fill="rgb(13,0,0)"/>
<path d="M505.0,355.0 L640.0,365.0 L715.0,400.0 L715.0,460.0 L640.0,465.0 L560.0,430.0 L505.0,390.0 Z" fill="rgb(13,0,0)"/>
<path d="M500.0,362.0 L560.0,368.0 L620.0,378.0 L670.0,392.0" fill="none" stroke="rgb(26,0,0)" stroke-width="5" stroke-linecap="round" stroke-linejoin="round"/>
<path d="M510.0,375.0 L580.0,386.0 L650.0,405.0 L712.0,428.0" fill="none" stroke="rgb(32,0,0)" stroke-width="5" stroke-linecap="round" stroke-linejoin="round"/>
<path d="M525.0,392.0 L590.0,405.0 L660.0,428.0 L705.0,448.0" fill="none" stroke="rgb(38,0,0)" stroke-width="4" stroke-linecap="round" stroke-linejoin="round"/>
<path d="M545.0,410.0 L600.0,428.0 L640.0,446.0" fill="none" stroke="rgb(26,0,0)" stroke-width="4" stroke-linecap="round" stroke-linejoin="round"/>
<ellipse cx="640" cy="430" rx="17" ry="8" transform="rotate(0 640 430)" fill="rgb(0,0,0)"/>
<ellipse cx="690" cy="445" rx="45" ry="18" transform="rotate(15 690 445)" fill="rgb(6,0,0)"/>
<path d="M618.0,477.0 L715.0,477.0 L715.0,541.0 L618.0,541.0 Z" fill="rgb(26,0,0)"/>
<path d="M690.0,305.0 L740.0,315.0 L790.0,310.0 L800.0,420.0 L760.0,470.0 L720.0,475.0 L690.0,420.0 Z" fill="rgb(3,0,0)"/>
<path d="M695.0,380.0 L760.0,380.0 L760.0,485.0 L700.0,485.0 Z" fill="rgb(4,0,0)"/>
<path d="M760.0,318.0 L800.0,303.0 L862.0,300.0 L900.0,278.0 L905.0,250.0 L950.0,245.0 L1000.0,232.0 L1030.0,213.0 L1085.0,208.0 L1130.0,215.0 L1150.0,248.0 L1175.0,282.0 L1150.0,305.0 L1100.0,318.0 L1040.0,332.0 L970.0,342.0 L935.0,378.0 L918.0,408.0 L880.0,425.0 L866.0,455.0 L830.0,452.0 L790.0,460.0 L760.0,470.0 Z" fill="rgb(3,0,0)"/>
<ellipse cx="830" cy="390" rx="70" ry="50" transform="rotate(-20 830 390)" fill="rgb(1,0,0)"/>
<path d="M899.0,245.0 L970.0,245.0 L970.0,285.0 L899.0,285.0 Z" fill="rgb(3,0,0)"/>
<path d="M985.0,265.0 L1066.0,265.0 L1070.0,309.0 L1005.0,306.0 L985.0,300.0 Z" fill="rgb(4,0,0)"/>
<ellipse cx="1010" cy="292" rx="25" ry="10" transform="rotate(-10 1010 292)" fill="rgb(4,0,0)"/>
<ellipse cx="1060" cy="318" rx="55" ry="14" transform="rotate(-8 1060 318)" fill="rgb(0,0,0)"/>
<path d="M1005.0,209.0 L1115.0,209.0 L1115.0,245.0 L1005.0,245.0 Z" fill="rgb(3,0,0)"/>
<path d="M1115.0,213.0 L1170.0,213.0 L1170.0,306.0 L1115.0,306.0 Z" fill="rgb(1,0,0)"/>
<path d="M992.0,186.0 L988.0,170.0 L1015.0,136.0 L1035.0,144.0 L1065.0,134.0 L1076.0,125.0 L1078.0,190.0 L1050.0,183.0 L1030.0,188.0 Z" fill="rgb(0,0,0)"/>
<ellipse cx="1030" cy="158" rx="14" ry="6" transform="rotate(-30 1030 158)" fill="rgb(0,0,0)"/>
<path d="M1076.0,115.0 L1115.0,119.0 L1115.0,197.0 L1090.0,215.0 L1076.0,197.0 Z" fill="rgb(0,0,0)"/>
<path d="M1115.0,100.0 L1200.0,100.0 L1200.0,213.0 L1115.0,213.0 Z" fill="rgb(0,0,0)"/>
</g>
<g filter="url(#faC)">
<rect x="25" y="100" width="1175" height="565" fill="#000"/>
<path d="M20.0,100.0 L1200.0,100.0 L1200.0,665.0 L20.0,665.0 Z" fill="rgb(3,0,0)"/>
<path d="M30.0,330.0 L200.0,320.0 L200.0,470.0 L140.0,470.0 L30.0,420.0 Z" fill="rgb(5,0,0)"/>
<path d="M190.0,235.0 L300.0,195.0 L340.0,150.0 L440.0,180.0 L440.0,245.0 L540.0,255.0 L545.0,300.0 L420.0,300.0 L300.0,335.0 L190.0,330.0 Z" fill="rgb(3,0,0)"/>
<path d="M310.0,159.0 L360.0,150.0 L435.0,205.0 L430.0,241.0 L310.0,241.0 Z" fill="rgb(3,0,0)"/>
<path d="M190.0,285.0 L260.0,290.0 L340.0,300.0 L440.0,305.0 L520.0,300.0" fill="none" stroke="rgb(4,0,0)" stroke-width="5" stroke-linecap="round" stroke-linejoin="round"/>
<path d="M195.0,258.0 L330.0,262.0 L450.0,272.0 L545.0,282.0 L545.0,302.0 L450.0,300.0 L330.0,305.0 L195.0,300.0 Z" fill="rgb(4,0,0)"/>
<path d="M138.0,380.0 L425.0,380.0 L425.0,444.0 L138.0,444.0 Z" fill="rgb(3,0,0)"/>
<path d="M195.0,335.0 L260.0,318.0 L330.0,318.0 L420.0,305.0 L540.0,302.0 L640.0,310.0 L700.0,316.0 L730.0,330.0 L700.0,356.0 L620.0,362.0 L560.0,372.0 L540.0,415.0 L480.0,438.0 L380.0,440.0 L300.0,440.0 L230.0,432.0 L200.0,410.0 L185.0,375.0 Z" fill="rgb(1,0,0)"/>
<ellipse cx="300" cy="395" rx="90" ry="25" transform="rotate(5 300 395)" fill="rgb(0,0,0)"/>
<path d="M250.0,330.0 L330.0,325.0 L420.0,318.0" fill="none" stroke="rgb(6,0,0)" stroke-width="4" stroke-linecap="round" stroke-linejoin="round"/>
<path d="M130.0,452.0 L430.0,445.0 L520.0,460.0 L600.0,468.0 L640.0,480.0 L640.0,505.0 L430.0,490.0 L130.0,490.0 Z" fill="rgb(4,0,0)"/>
<path d="M120.0,477.0 L270.0,480.0 L270.0,600.0 L200.0,620.0 L120.0,590.0 Z" fill="rgb(13,0,0)"/>
<path d="M266.0,489.0 L640.0,500.0 L645.0,530.0 L580.0,560.0 L420.0,580.0 L266.0,575.0 Z" fill="rgb(4,0,0)"/>
<path d="M266.0,575.0 L420.0,580.0 L560.0,560.0 L610.0,530.0 L640.0,540.0 L600.0,640.0 L420.0,670.0 L266.0,650.0 Z" fill="rgb(5,0,0)"/>
<path d="M540.0,575.0 L620.0,545.0 L720.0,540.0 L720.0,680.0 L540.0,680.0 Z" fill="rgb(6,0,0)"/>
<path d="M440.0,458.0 L620.0,470.0 L625.0,540.0 L580.0,565.0 L440.0,575.0 Z" fill="rgb(5,0,0)"/>
<ellipse cx="640" cy="462" rx="40" ry="10" transform="rotate(15 640 462)" fill="rgb(5,0,0)"/>
<path d="M505.0,355.0 L640.0,365.0 L715.0,400.0 L715.0,460.0 L640.0,465.0 L560.0,430.0 L505.0,390.0 Z" fill="rgb(5,0,0)"/>
<ellipse cx="640" cy="430" rx="17" ry="8" transform="rotate(0 640 430)" fill="rgb(0,0,0)"/>
<ellipse cx="690" cy="445" rx="45" ry="18" transform="rotate(15 690 445)" fill="rgb(6,0,0)"/>
<path d="M618.0,477.0 L715.0,477.0 L715.0,541.0 L618.0,541.0 Z" fill="rgb(10,0,0)"/>
<ellipse cx="692" cy="502" rx="18" ry="16" transform="rotate(0 692 502)" fill="rgb(51,0,0)"/>
<path d="M690.0,305.0 L740.0,315.0 L790.0,310.0 L800.0,420.0 L760.0,470.0 L720.0,475.0 L690.0,420.0 Z" fill="rgb(6,0,0)"/>
<path d="M695.0,380.0 L760.0,380.0 L760.0,485.0 L700.0,485.0 Z" fill="rgb(8,0,0)"/>
<path d="M760.0,318.0 L800.0,303.0 L862.0,300.0 L900.0,278.0 L905.0,250.0 L950.0,245.0 L1000.0,232.0 L1030.0,213.0 L1085.0,208.0 L1130.0,215.0 L1150.0,248.0 L1175.0,282.0 L1150.0,305.0 L1100.0,318.0 L1040.0,332.0 L970.0,342.0 L935.0,378.0 L918.0,408.0 L880.0,425.0 L866.0,455.0 L830.0,452.0 L790.0,460.0 L760.0,470.0 Z" fill="rgb(4,0,0)"/>
<ellipse cx="830" cy="390" rx="70" ry="50" transform="rotate(-20 830 390)" fill="rgb(3,0,0)"/>
<path d="M899.0,245.0 L970.0,245.0 L970.0,285.0 L899.0,285.0 Z" fill="rgb(5,0,0)"/>
<path d="M985.0,265.0 L1066.0,265.0 L1070.0,309.0 L1005.0,306.0 L985.0,300.0 Z" fill="rgb(10,0,0)"/>
<ellipse cx="1010" cy="292" rx="25" ry="10" transform="rotate(-10 1010 292)" fill="rgb(26,0,0)"/>
<ellipse cx="1060" cy="318" rx="55" ry="14" transform="rotate(-8 1060 318)" fill="rgb(1,0,0)"/>
<path d="M1005.0,209.0 L1115.0,209.0 L1115.0,245.0 L1005.0,245.0 Z" fill="rgb(4,0,0)"/>
<path d="M1115.0,213.0 L1170.0,213.0 L1170.0,306.0 L1115.0,306.0 Z" fill="rgb(4,0,0)"/>
<path d="M992.0,186.0 L988.0,170.0 L1015.0,136.0 L1035.0,144.0 L1065.0,134.0 L1076.0,125.0 L1078.0,190.0 L1050.0,183.0 L1030.0,188.0 Z" fill="rgb(1,0,0)"/>
<ellipse cx="1030" cy="158" rx="14" ry="6" transform="rotate(-30 1030 158)" fill="rgb(0,0,0)"/>
<path d="M1076.0,115.0 L1115.0,119.0 L1115.0,197.0 L1090.0,215.0 L1076.0,197.0 Z" fill="rgb(4,0,0)"/>
<path d="M1115.0,100.0 L1200.0,100.0 L1200.0,213.0 L1115.0,213.0 Z" fill="rgb(1,0,0)"/>
</g>
</g>
<path d="M36.6,375.3 L43.1,371.7 L46.7,359.6 L49.1,357.2 L56.4,356.0 L67.2,348.8 L84.1,345.6 L87.3,353.6 L102.2,350.0 L108.3,345.2 L111.9,336.7 L124.0,333.1 L138.4,326.6 L144.5,327.8 L159.0,321.0 L169.8,318.6 L184.3,312.6 L191.5,309.0 L190.3,299.3 L194.0,293.3 L201.2,289.6 L202.4,282.4 L196.4,270.3 L191.5,255.8 L191.5,251.0 L181.9,249.8 L184.3,246.2 L198.8,243.8 L222.9,239.4 L232.6,240.2 L241.0,242.6 L243.4,241.4 L237.4,237.7 L236.2,226.9 L253.1,197.9 L262.7,199.1 L278.4,203.2 L297.7,200.3 L311.8,200.8 L310.1,180.5 L315.2,170.4 L333.8,167.0 L337.2,156.9 L343.9,154.2 L360.8,153.5 L364.2,163.7 L379.4,173.8 L398.0,180.5 L411.5,183.9 L420.0,190.7 L426.7,202.5 L435.2,211.0 L431.8,221.1 L426.7,234.6 L430.1,241.4 L441.9,244.1 L462.2,246.4 L489.2,247.5 L502.7,253.2 L516.3,261.6 L533.1,263.3 L531.5,268.4 L543.3,285.3 L556.8,297.1 L577.1,297.1 L614.2,301.5 L648.0,298.8 L678.4,303.9 L685.2,309.0 L700.0,311.9 L714.5,316.7 L738.6,317.9 L741.0,322.8 L750.7,322.3 L770.0,314.3 L784.5,309.5 L806.2,304.6 L844.8,304.6 L864.1,299.8 L876.2,293.8 L885.8,285.3 L895.4,277.7 L905.7,273.8 L898.0,264.8 L896.7,257.1 L904.5,246.8 L918.6,246.8 L926.3,250.6 L944.4,251.9 L967.5,240.3 L988.1,237.7 L1006.2,230.0 L1011.3,221.0 L1031.9,213.3 L1055.1,209.4 L1075.7,209.4 L1087.3,210.7 L1088.5,203.0 L1083.4,195.3 L1070.5,187.5 L1049.9,181.1 L1031.9,185.0 L1021.6,182.4 L993.3,183.7 L989.4,176.0 L995.9,169.5 L999.7,159.2 L1015.2,138.6 L1034.5,146.3 L1049.9,141.2 L1065.4,136.0 L1075.7,129.6 L1071.8,125.7 L1078.2,115.4 L1089.7,109.7 L1093.3,113.3 L1103.9,123.0 L1114.5,130.1 L1123.4,133.6 L1121.6,138.1 L1118.1,140.7 L1125.1,146.9 L1134.0,148.7 L1146.4,146.0 L1157.0,134.5 L1165.8,124.8 L1174.7,118.6 L1183.5,120.4 L1187.1,126.5 L1189.7,135.4 L1186.2,142.5 L1181.8,153.1 L1171.2,156.6 L1164.1,160.2 L1162.3,167.3 L1165.8,172.6 L1158.8,174.3 L1149.9,176.1 L1146.4,183.2 L1142.8,193.8 L1139.3,204.4 L1134.0,211.5 L1130.4,220.4 L1134.0,227.4 L1142.8,236.3 L1149.1,246.8 L1158.1,264.8 L1165.8,277.7 L1163.2,288.0 L1152.9,298.3 L1137.5,303.4 L1116.9,308.5 L1104.0,312.4 L1091.1,318.8 L1083.4,324.0 L1070.5,326.6 L1049.9,327.9 L1047.4,330.4 L1034.5,331.7 L1021.6,334.3 L1003.6,334.3 L983.0,335.6 L970.3,339.6 L966.7,350.5 L953.4,356.5 L942.6,362.6 L938.9,372.2 L926.9,378.3 L919.6,381.9 L918.4,404.8 L912.4,408.4 L900.3,412.1 L888.3,418.1 L879.8,415.7 L878.6,421.7 L866.5,430.2 L864.1,438.6 L864.1,449.5 L854.5,447.0 L844.8,448.3 L840.0,453.1 L835.2,448.3 L827.9,444.6 L820.7,443.4 L813.4,447.0 L808.6,450.7 L799.0,450.7 L791.7,454.3 L779.6,457.9 L774.9,463.4 L763.6,473.1 L747.6,477.3 L726.6,475.4 L720.5,478.4 L718.1,485.7 L724.1,491.7 L731.4,498.9 L734.7,498.8 L736.3,503.7 L731.5,516.5 L736.3,524.6 L741.1,531.0 L728.2,529.4 L729.8,539.1 L726.6,550.3 L718.6,558.4 L710.5,564.8 L702.5,574.5 L691.2,584.1 L686.4,597.0 L689.6,608.3 L686.4,616.3 L678.4,626.0 L676.7,635.6 L663.9,638.8 L654.2,635.6 L655.8,643.7 L647.8,649.1 L644.6,654.9 L636.5,650.1 L628.5,637.2 L618.8,629.2 L599.5,619.5 L580.2,609.9 L560.9,607.3 L548.0,600.2 L535.2,593.8 L527.1,603.4 L519.1,613.1 L512.6,621.1 L499.8,626.0 L483.7,634.0 L469.2,638.8 L466.0,644.6 L461.1,638.8 L448.3,634.0 L432.2,634.0 L419.3,630.8 L404.7,628.5 L393.5,634.9 L391.9,646.2 L385.4,647.8 L382.2,633.3 L366.1,631.7 L346.8,634.9 L324.3,633.3 L314.6,626.9 L301.7,622.0 L292.1,615.6 L279.2,606.0 L266.4,604.3 L250.3,594.7 L231.0,581.8 L218.1,578.6 L211.6,585.0 L205.2,580.2 L192.3,573.8 L176.2,565.7 L160.2,560.9 L152.1,544.8 L148.9,531.9 L152.1,527.1 L158.5,531.9 L165.0,530.3 L166.6,522.3 L156.9,511.0 L155.3,494.9 L163.4,488.5 L150.5,483.7 L142.5,472.4 L139.2,462.8 L121.5,461.1 L108.7,457.9 L95.8,451.5 L92.6,438.6 L82.9,432.2 L73.3,427.4 L60.4,424.1 L73.3,420.9 L70.1,412.9 L69.7,412.7 L68.4,401.9 L63.6,395.8 L51.5,392.2 L45.5,393.4 L44.3,388.6 L40.7,385.0 L41.9,381.4 Z" fill="none" stroke="#000" stroke-width="3.2" stroke-linejoin="round" filter="url(#jag)"/>
</g>
<g transform="translate(0,822.5)">
<g clip-path="url(#mapclip)">
<g filter="url(#fbB)">
<rect x="25" y="100" width="1175" height="565" fill="#000"/>
<path d="M20.0,100.0 L1200.0,100.0 L1200.0,665.0 L20.0,665.0 Z" fill="rgb(3,0,0)"/>
<path d="M30.0,330.0 L200.0,320.0 L200.0,470.0 L140.0,470.0 L30.0,420.0 Z" fill="rgb(5,0,0)"/>
<ellipse cx="145" cy="375" rx="30" ry="20" transform="rotate(-20 145 375)" fill="rgb(32,0,0)"/>
<path d="M190.0,235.0 L300.0,195.0 L340.0,150.0 L440.0,180.0 L440.0,245.0 L540.0,255.0 L545.0,300.0 L420.0,300.0 L300.0,335.0 L190.0,330.0 Z" fill="rgb(5,0,0)"/>
<ellipse cx="265" cy="236" rx="28" ry="9" transform="rotate(-10 265 236)" fill="rgb(6,0,0)"/>
<ellipse cx="280" cy="305" rx="70" ry="12" transform="rotate(0 280 305)" fill="rgb(26,0,0)"/>
<path d="M138.0,380.0 L425.0,380.0 L425.0,451.0 L138.0,451.0 Z" fill="rgb(6,0,0)"/>
<path d="M195.0,335.0 L260.0,318.0 L330.0,318.0 L420.0,305.0 L540.0,302.0 L640.0,310.0 L700.0,316.0 L730.0,330.0 L700.0,356.0 L620.0,362.0 L560.0,372.0 L540.0,415.0 L480.0,438.0 L380.0,440.0 L300.0,440.0 L230.0,432.0 L200.0,410.0 L185.0,375.0 Z" fill="rgb(1,0,0)"/>
<ellipse cx="300" cy="395" rx="90" ry="25" transform="rotate(5 300 395)" fill="rgb(0,0,0)"/>
<path d="M120.0,450.0 L700.0,455.0 L740.0,540.0 L720.0,680.0 L430.0,680.0 L120.0,600.0 Z" fill="rgb(10,0,0)"/>
<ellipse cx="290" cy="474" rx="42" ry="12" transform="rotate(5 290 474)" fill="rgb(13,0,0)"/>
<ellipse cx="664" cy="472" rx="22" ry="14" transform="rotate(0 664 472)" fill="rgb(13,0,0)"/>
<ellipse cx="682" cy="500" rx="28" ry="14" transform="rotate(0 682 500)" fill="rgb(19,0,0)"/>
<ellipse cx="706" cy="447" rx="15" ry="8" transform="rotate(0 706 447)" fill="rgb(51,0,0)"/>
<path d="M521.0,360.0 L698.0,360.0 L698.0,417.0 L521.0,417.0 Z" fill="rgb(13,0,0)"/>
<path d="M425.0,244.0 L531.0,250.0 L531.0,305.0 L425.0,300.0 Z" fill="rgb(10,0,0)"/>
<ellipse cx="665" cy="337" rx="8" ry="13" transform="rotate(0 665 337)" fill="rgb(45,0,0)"/>
<path d="M600.0,306.0 L760.0,310.0 L800.0,320.0 L800.0,450.0 L700.0,455.0 L600.0,450.0 Z" fill="rgb(10,0,0)"/>
<ellipse cx="835" cy="365" rx="35" ry="25" transform="rotate(0 835 365)" fill="rgb(51,0,0)"/>
<ellipse cx="815" cy="363" rx="20" ry="15" transform="rotate(0 815 363)" fill="rgb(102,0,0)"/>
<ellipse cx="710" cy="445" rx="22" ry="10" transform="rotate(0 710 445)" fill="rgb(45,0,0)"/>
<path d="M774.0,422.0 L861.0,422.0 L861.0,451.0 L774.0,451.0 Z" fill="rgb(10,0,0)"/>
<path d="M800.0,300.0 L900.0,278.0 L960.0,285.0 L960.0,364.0 L900.0,390.0 L800.0,380.0 Z" fill="rgb(38,0,0)"/>
<ellipse cx="922" cy="300" rx="32" ry="14" transform="rotate(-15 922 300)" fill="rgb(121,0,0)"/>
<ellipse cx="932" cy="332" rx="28" ry="14" transform="rotate(-15 932 332)" fill="rgb(13,0,0)"/>
<ellipse cx="890" cy="375" rx="30" ry="20" transform="rotate(-20 890 375)" fill="rgb(6,0,0)"/>
<path d="M899.0,249.0 L960.0,249.0 L960.0,268.0 L899.0,268.0 Z" fill="rgb(32,0,0)"/>
<path d="M885.0,268.0 L960.0,268.0 L960.0,318.0 L885.0,318.0 Z" fill="rgb(96,0,0)"/>
<path d="M960.0,258.0 L1050.0,258.0 L1050.0,323.0 L960.0,323.0 Z" fill="rgb(19,0,0)"/>
<path d="M1005.0,210.0 L1115.0,210.0 L1115.0,242.0 L1005.0,242.0 Z" fill="rgb(38,0,0)"/>
<ellipse cx="1058" cy="239" rx="24" ry="13" transform="rotate(0 1058 239)" fill="rgb(76,0,0)"/>
<ellipse cx="1127" cy="250" rx="20" ry="22" transform="rotate(0 1127 250)" fill="rgb(26,0,0)"/>
<ellipse cx="1082" cy="271" rx="32" ry="18" transform="rotate(-10 1082 271)" fill="rgb(102,0,0)"/>
<ellipse cx="1148" cy="287" rx="18" ry="16" transform="rotate(0 1148 287)" fill="rgb(6,0,0)"/>
<ellipse cx="1050" cy="322" rx="50" ry="13" transform="rotate(-8 1050 322)" fill="rgb(6,0,0)"/>
<path d="M992.0,186.0 L988.0,170.0 L1015.0,136.0 L1035.0,144.0 L1065.0,134.0 L1076.0,125.0 L1078.0,190.0 L1050.0,183.0 L1030.0,188.0 Z" fill="rgb(9,0,0)"/>
<ellipse cx="1022" cy="150" rx="14" ry="7" transform="rotate(-20 1022 150)" fill="rgb(3,0,0)"/>
<ellipse cx="1013" cy="175" rx="22" ry="10" transform="rotate(-15 1013 175)" fill="rgb(121,0,0)"/>
<path d="M1076.0,115.0 L1115.0,119.0 L1115.0,197.0 L1090.0,215.0 L1076.0,197.0 Z" fill="rgb(6,0,0)"/>
<path d="M1115.0,100.0 L1200.0,100.0 L1200.0,213.0 L1115.0,213.0 Z" fill="rgb(1,0,0)"/>
</g>
<g filter="url(#fbO)">
<rect x="25" y="100" width="1175" height="565" fill="#000"/>
<path d="M20.0,100.0 L1200.0,100.0 L1200.0,665.0 L20.0,665.0 Z" fill="rgb(3,0,0)"/>
<path d="M30.0,330.0 L200.0,320.0 L200.0,470.0 L140.0,470.0 L30.0,420.0 Z" fill="rgb(8,0,0)"/>
<path d="M190.0,235.0 L300.0,195.0 L340.0,150.0 L440.0,180.0 L440.0,245.0 L540.0,255.0 L545.0,300.0 L420.0,300.0 L300.0,335.0 L190.0,330.0 Z" fill="rgb(9,0,0)"/>
<ellipse cx="265" cy="236" rx="28" ry="9" transform="rotate(-10 265 236)" fill="rgb(57,0,0)"/>
<path d="M138.0,380.0 L425.0,380.0 L425.0,451.0 L138.0,451.0 Z" fill="rgb(6,0,0)"/>
<path d="M195.0,335.0 L260.0,318.0 L330.0,318.0 L420.0,305.0 L540.0,302.0 L640.0,310.0 L700.0,316.0 L730.0,330.0 L700.0,356.0 L620.0,362.0 L560.0,372.0 L540.0,415.0 L480.0,438.0 L380.0,440.0 L300.0,440.0 L230.0,432.0 L200.0,410.0 L185.0,375.0 Z" fill="rgb(1,0,0)"/>
<ellipse cx="300" cy="395" rx="90" ry="25" transform="rotate(5 300 395)" fill="rgb(0,0,0)"/>
<path d="M120.0,450.0 L700.0,455.0 L740.0,540.0 L720.0,680.0 L430.0,680.0 L120.0,600.0 Z" fill="rgb(13,0,0)"/>
<ellipse cx="290" cy="474" rx="42" ry="12" transform="rotate(5 290 474)" fill="rgb(76,0,0)"/>
<ellipse cx="664" cy="472" rx="22" ry="14" transform="rotate(0 664 472)" fill="rgb(99,0,0)"/>
<ellipse cx="682" cy="500" rx="28" ry="14" transform="rotate(0 682 500)" fill="rgb(13,0,0)"/>
<path d="M521.0,360.0 L698.0,360.0 L698.0,417.0 L521.0,417.0 Z" fill="rgb(15,0,0)"/>
<path d="M425.0,244.0 L531.0,250.0 L531.0,305.0 L425.0,300.0 Z" fill="rgb(19,0,0)"/>
<path d="M600.0,306.0 L760.0,310.0 L800.0,320.0 L800.0,450.0 L700.0,455.0 L600.0,450.0 Z" fill="rgb(5,0,0)"/>
<ellipse cx="835" cy="365" rx="35" ry="25" transform="rotate(0 835 365)" fill="rgb(6,0,0)"/>
<path d="M774.0,422.0 L861.0,422.0 L861.0,451.0 L774.0,451.0 Z" fill="rgb(6,0,0)"/>
<path d="M800.0,300.0 L900.0,278.0 L960.0,285.0 L960.0,364.0 L900.0,390.0 L800.0,380.0 Z" fill="rgb(26,0,0)"/>
<ellipse cx="922" cy="300" rx="32" ry="14" transform="rotate(-15 922 300)" fill="rgb(10,0,0)"/>
<ellipse cx="932" cy="332" rx="28" ry="14" transform="rotate(-15 932 332)" fill="rgb(51,0,0)"/>
<ellipse cx="890" cy="375" rx="30" ry="20" transform="rotate(-20 890 375)" fill="rgb(6,0,0)"/>
<path d="M899.0,249.0 L960.0,249.0 L960.0,268.0 L899.0,268.0 Z" fill="rgb(45,0,0)"/>
<path d="M885.0,268.0 L960.0,268.0 L960.0,318.0 L885.0,318.0 Z" fill="rgb(13,0,0)"/>
<path d="M960.0,258.0 L1050.0,258.0 L1050.0,323.0 L960.0,323.0 Z" fill="rgb(38,0,0)"/>
<path d="M1005.0,210.0 L1115.0,210.0 L1115.0,242.0 L1005.0,242.0 Z" fill="rgb(32,0,0)"/>
<ellipse cx="1058" cy="239" rx="24" ry="13" transform="rotate(0 1058 239)" fill="rgb(13,0,0)"/>
<ellipse cx="1127" cy="250" rx="20" ry="22" transform="rotate(0 1127 250)" fill="rgb(6,0,0)"/>
<ellipse cx="1082" cy="271" rx="32" ry="18" transform="rotate(-10 1082 271)" fill="rgb(13,0,0)"/>
<ellipse cx="1148" cy="287" rx="18" ry="16" transform="rotate(0 1148 287)" fill="rgb(64,0,0)"/>
<ellipse cx="1050" cy="322" rx="50" ry="13" transform="rotate(-8 1050 322)" fill="rgb(6,0,0)"/>
<path d="M992.0,186.0 L988.0,170.0 L1015.0,136.0 L1035.0,144.0 L1065.0,134.0 L1076.0,125.0 L1078.0,190.0 L1050.0,183.0 L1030.0,188.0 Z" fill="rgb(20,0,0)"/>
<ellipse cx="1022" cy="150" rx="14" ry="7" transform="rotate(-20 1022 150)" fill="rgb(121,0,0)"/>
<ellipse cx="1013" cy="175" rx="22" ry="10" transform="rotate(-15 1013 175)" fill="rgb(6,0,0)"/>
<path d="M1076.0,115.0 L1115.0,119.0 L1115.0,197.0 L1090.0,215.0 L1076.0,197.0 Z" fill="rgb(18,0,0)"/>
<path d="M1115.0,100.0 L1200.0,100.0 L1200.0,213.0 L1115.0,213.0 Z" fill="rgb(1,0,0)"/>
</g>
<g filter="url(#fbL)">
<rect x="25" y="100" width="1175" height="565" fill="#000"/>
<path d="M20.0,100.0 L1200.0,100.0 L1200.0,665.0 L20.0,665.0 Z" fill="rgb(3,0,0)"/>
<path d="M30.0,330.0 L200.0,320.0 L200.0,470.0 L140.0,470.0 L30.0,420.0 Z" fill="rgb(5,0,0)"/>
<path d="M190.0,235.0 L300.0,195.0 L340.0,150.0 L440.0,180.0 L440.0,245.0 L540.0,255.0 L545.0,300.0 L420.0,300.0 L300.0,335.0 L190.0,330.0 Z" fill="rgb(5,0,0)"/>
<ellipse cx="265" cy="236" rx="28" ry="9" transform="rotate(-10 265 236)" fill="rgb(32,0,0)"/>
<path d="M138.0,380.0 L425.0,380.0 L425.0,451.0 L138.0,451.0 Z" fill="rgb(5,0,0)"/>
<path d="M195.0,335.0 L260.0,318.0 L330.0,318.0 L420.0,305.0 L540.0,302.0 L640.0,310.0 L700.0,316.0 L730.0,330.0 L700.0,356.0 L620.0,362.0 L560.0,372.0 L540.0,415.0 L480.0,438.0 L380.0,440.0 L300.0,440.0 L230.0,432.0 L200.0,410.0 L185.0,375.0 Z" fill="rgb(1,0,0)"/>
<ellipse cx="300" cy="395" rx="90" ry="25" transform="rotate(5 300 395)" fill="rgb(0,0,0)"/>
<path d="M120.0,450.0 L700.0,455.0 L740.0,540.0 L720.0,680.0 L430.0,680.0 L120.0,600.0 Z" fill="rgb(8,0,0)"/>
<ellipse cx="290" cy="474" rx="42" ry="12" transform="rotate(5 290 474)" fill="rgb(19,0,0)"/>
<ellipse cx="664" cy="472" rx="22" ry="14" transform="rotate(0 664 472)" fill="rgb(15,0,0)"/>
<ellipse cx="682" cy="500" rx="28" ry="14" transform="rotate(0 682 500)" fill="rgb(41,0,0)"/>
<path d="M521.0,360.0 L698.0,360.0 L698.0,417.0 L521.0,417.0 Z" fill="rgb(6,0,0)"/>
<path d="M425.0,244.0 L531.0,250.0 L531.0,305.0 L425.0,300.0 Z" fill="rgb(8,0,0)"/>
<path d="M600.0,306.0 L760.0,310.0 L800.0,320.0 L800.0,450.0 L700.0,455.0 L600.0,450.0 Z" fill="rgb(4,0,0)"/>
<ellipse cx="835" cy="365" rx="35" ry="25" transform="rotate(0 835 365)" fill="rgb(4,0,0)"/>
<path d="M774.0,422.0 L861.0,422.0 L861.0,451.0 L774.0,451.0 Z" fill="rgb(19,0,0)"/>
<path d="M800.0,300.0 L900.0,278.0 L960.0,285.0 L960.0,364.0 L900.0,390.0 L800.0,380.0 Z" fill="rgb(8,0,0)"/>
<ellipse cx="932" cy="332" rx="28" ry="14" transform="rotate(-15 932 332)" fill="rgb(6,0,0)"/>
<ellipse cx="890" cy="375" rx="30" ry="20" transform="rotate(-20 890 375)" fill="rgb(6,0,0)"/>
<path d="M899.0,249.0 L960.0,249.0 L960.0,268.0 L899.0,268.0 Z" fill="rgb(8,0,0)"/>
<path d="M885.0,268.0 L960.0,268.0 L960.0,318.0 L885.0,318.0 Z" fill="rgb(5,0,0)"/>
<path d="M960.0,258.0 L1050.0,258.0 L1050.0,323.0 L960.0,323.0 Z" fill="rgb(13,0,0)"/>
<path d="M1005.0,210.0 L1115.0,210.0 L1115.0,242.0 L1005.0,242.0 Z" fill="rgb(6,0,0)"/>
<ellipse cx="1127" cy="250" rx="20" ry="22" transform="rotate(0 1127 250)" fill="rgb(45,0,0)"/>
<ellipse cx="1082" cy="271" rx="32" ry="18" transform="rotate(-10 1082 271)" fill="rgb(6,0,0)"/>
<ellipse cx="1148" cy="287" rx="18" ry="16" transform="rotate(0 1148 287)" fill="rgb(6,0,0)"/>
<ellipse cx="1050" cy="322" rx="50" ry="13" transform="rotate(-8 1050 322)" fill="rgb(3,0,0)"/>
<path d="M992.0,186.0 L988.0,170.0 L1015.0,136.0 L1035.0,144.0 L1065.0,134.0 L1076.0,125.0 L1078.0,190.0 L1050.0,183.0 L1030.0,188.0 Z" fill="rgb(10,0,0)"/>
<path d="M1076.0,115.0 L1115.0,119.0 L1115.0,197.0 L1090.0,215.0 L1076.0,197.0 Z" fill="rgb(8,0,0)"/>
<path d="M1115.0,100.0 L1200.0,100.0 L1200.0,213.0 L1115.0,213.0 Z" fill="rgb(0,0,0)"/>
</g>
<g filter="url(#fbC)">
<rect x="25" y="100" width="1175" height="565" fill="#000"/>
<path d="M20.0,100.0 L1200.0,100.0 L1200.0,665.0 L20.0,665.0 Z" fill="rgb(3,0,0)"/>
<path d="M30.0,330.0 L200.0,320.0 L200.0,470.0 L140.0,470.0 L30.0,420.0 Z" fill="rgb(4,0,0)"/>
<path d="M190.0,235.0 L300.0,195.0 L340.0,150.0 L440.0,180.0 L440.0,245.0 L540.0,255.0 L545.0,300.0 L420.0,300.0 L300.0,335.0 L190.0,330.0 Z" fill="rgb(5,0,0)"/>
<path d="M138.0,380.0 L425.0,380.0 L425.0,451.0 L138.0,451.0 Z" fill="rgb(4,0,0)"/>
<path d="M195.0,335.0 L260.0,318.0 L330.0,318.0 L420.0,305.0 L540.0,302.0 L640.0,310.0 L700.0,316.0 L730.0,330.0 L700.0,356.0 L620.0,362.0 L560.0,372.0 L540.0,415.0 L480.0,438.0 L380.0,440.0 L300.0,440.0 L230.0,432.0 L200.0,410.0 L185.0,375.0 Z" fill="rgb(1,0,0)"/>
<ellipse cx="300" cy="395" rx="90" ry="25" transform="rotate(5 300 395)" fill="rgb(0,0,0)"/>
<path d="M120.0,450.0 L700.0,455.0 L740.0,540.0 L720.0,680.0 L430.0,680.0 L120.0,600.0 Z" fill="rgb(6,0,0)"/>
<ellipse cx="682" cy="500" rx="28" ry="14" transform="rotate(0 682 500)" fill="rgb(32,0,0)"/>
<path d="M521.0,360.0 L698.0,360.0 L698.0,417.0 L521.0,417.0 Z" fill="rgb(8,0,0)"/>
<path d="M425.0,244.0 L531.0,250.0 L531.0,305.0 L425.0,300.0 Z" fill="rgb(6,0,0)"/>
<path d="M600.0,306.0 L760.0,310.0 L800.0,320.0 L800.0,450.0 L700.0,455.0 L600.0,450.0 Z" fill="rgb(6,0,0)"/>
<ellipse cx="835" cy="365" rx="35" ry="25" transform="rotate(0 835 365)" fill="rgb(10,0,0)"/>
<path d="M774.0,422.0 L861.0,422.0 L861.0,451.0 L774.0,451.0 Z" fill="rgb(13,0,0)"/>
<path d="M800.0,300.0 L900.0,278.0 L960.0,285.0 L960.0,364.0 L900.0,390.0 L800.0,380.0 Z" fill="rgb(10,0,0)"/>
<ellipse cx="890" cy="375" rx="30" ry="20" transform="rotate(-20 890 375)" fill="rgb(38,0,0)"/>
<path d="M899.0,249.0 L960.0,249.0 L960.0,268.0 L899.0,268.0 Z" fill="rgb(6,0,0)"/>
<path d="M885.0,268.0 L960.0,268.0 L960.0,318.0 L885.0,318.0 Z" fill="rgb(6,0,0)"/>
<path d="M960.0,258.0 L1050.0,258.0 L1050.0,323.0 L960.0,323.0 Z" fill="rgb(6,0,0)"/>
<path d="M1005.0,210.0 L1115.0,210.0 L1115.0,242.0 L1005.0,242.0 Z" fill="rgb(6,0,0)"/>
<ellipse cx="1050" cy="322" rx="50" ry="13" transform="rotate(-8 1050 322)" fill="rgb(3,0,0)"/>
<path d="M992.0,186.0 L988.0,170.0 L1015.0,136.0 L1035.0,144.0 L1065.0,134.0 L1076.0,125.0 L1078.0,190.0 L1050.0,183.0 L1030.0,188.0 Z" fill="rgb(3,0,0)"/>
<path d="M1076.0,115.0 L1115.0,119.0 L1115.0,197.0 L1090.0,215.0 L1076.0,197.0 Z" fill="rgb(3,0,0)"/>
<path d="M1115.0,100.0 L1200.0,100.0 L1200.0,213.0 L1115.0,213.0 Z" fill="rgb(1,0,0)"/>
</g>
</g>
<path d="M36.6,375.3 L43.1,371.7 L46.7,359.6 L49.1,357.2 L56.4,356.0 L67.2,348.8 L84.1,345.6 L87.3,353.6 L102.2,350.0 L108.3,345.2 L111.9,336.7 L124.0,333.1 L138.4,326.6 L144.5,327.8 L159.0,321.0 L169.8,318.6 L184.3,312.6 L191.5,309.0 L190.3,299.3 L194.0,293.3 L201.2,289.6 L202.4,282.4 L196.4,270.3 L191.5,255.8 L191.5,251.0 L181.9,249.8 L184.3,246.2 L198.8,243.8 L222.9,239.4 L232.6,240.2 L241.0,242.6 L243.4,241.4 L237.4,237.7 L236.2,226.9 L253.1,197.9 L262.7,199.1 L278.4,203.2 L297.7,200.3 L311.8,200.8 L310.1,180.5 L315.2,170.4 L333.8,167.0 L337.2,156.9 L343.9,154.2 L360.8,153.5 L364.2,163.7 L379.4,173.8 L398.0,180.5 L411.5,183.9 L420.0,190.7 L426.7,202.5 L435.2,211.0 L431.8,221.1 L426.7,234.6 L430.1,241.4 L441.9,244.1 L462.2,246.4 L489.2,247.5 L502.7,253.2 L516.3,261.6 L533.1,263.3 L531.5,268.4 L543.3,285.3 L556.8,297.1 L577.1,297.1 L614.2,301.5 L648.0,298.8 L678.4,303.9 L685.2,309.0 L700.0,311.9 L714.5,316.7 L738.6,317.9 L741.0,322.8 L750.7,322.3 L770.0,314.3 L784.5,309.5 L806.2,304.6 L844.8,304.6 L864.1,299.8 L876.2,293.8 L885.8,285.3 L895.4,277.7 L905.7,273.8 L898.0,264.8 L896.7,257.1 L904.5,246.8 L918.6,246.8 L926.3,250.6 L944.4,251.9 L967.5,240.3 L988.1,237.7 L1006.2,230.0 L1011.3,221.0 L1031.9,213.3 L1055.1,209.4 L1075.7,209.4 L1087.3,210.7 L1088.5,203.0 L1083.4,195.3 L1070.5,187.5 L1049.9,181.1 L1031.9,185.0 L1021.6,182.4 L993.3,183.7 L989.4,176.0 L995.9,169.5 L999.7,159.2 L1015.2,138.6 L1034.5,146.3 L1049.9,141.2 L1065.4,136.0 L1075.7,129.6 L1071.8,125.7 L1078.2,115.4 L1089.7,109.7 L1093.3,113.3 L1103.9,123.0 L1114.5,130.1 L1123.4,133.6 L1121.6,138.1 L1118.1,140.7 L1125.1,146.9 L1134.0,148.7 L1146.4,146.0 L1157.0,134.5 L1165.8,124.8 L1174.7,118.6 L1183.5,120.4 L1187.1,126.5 L1189.7,135.4 L1186.2,142.5 L1181.8,153.1 L1171.2,156.6 L1164.1,160.2 L1162.3,167.3 L1165.8,172.6 L1158.8,174.3 L1149.9,176.1 L1146.4,183.2 L1142.8,193.8 L1139.3,204.4 L1134.0,211.5 L1130.4,220.4 L1134.0,227.4 L1142.8,236.3 L1149.1,246.8 L1158.1,264.8 L1165.8,277.7 L1163.2,288.0 L1152.9,298.3 L1137.5,303.4 L1116.9,308.5 L1104.0,312.4 L1091.1,318.8 L1083.4,324.0 L1070.5,326.6 L1049.9,327.9 L1047.4,330.4 L1034.5,331.7 L1021.6,334.3 L1003.6,334.3 L983.0,335.6 L970.3,339.6 L966.7,350.5 L953.4,356.5 L942.6,362.6 L938.9,372.2 L926.9,378.3 L919.6,381.9 L918.4,404.8 L912.4,408.4 L900.3,412.1 L888.3,418.1 L879.8,415.7 L878.6,421.7 L866.5,430.2 L864.1,438.6 L864.1,449.5 L854.5,447.0 L844.8,448.3 L840.0,453.1 L835.2,448.3 L827.9,444.6 L820.7,443.4 L813.4,447.0 L808.6,450.7 L799.0,450.7 L791.7,454.3 L779.6,457.9 L774.9,463.4 L763.6,473.1 L747.6,477.3 L726.6,475.4 L720.5,478.4 L718.1,485.7 L724.1,491.7 L731.4,498.9 L734.7,498.8 L736.3,503.7 L731.5,516.5 L736.3,524.6 L741.1,531.0 L728.2,529.4 L729.8,539.1 L726.6,550.3 L718.6,558.4 L710.5,564.8 L702.5,574.5 L691.2,584.1 L686.4,597.0 L689.6,608.3 L686.4,616.3 L678.4,626.0 L676.7,635.6 L663.9,638.8 L654.2,635.6 L655.8,643.7 L647.8,649.1 L644.6,654.9 L636.5,650.1 L628.5,637.2 L618.8,629.2 L599.5,619.5 L580.2,609.9 L560.9,607.3 L548.0,600.2 L535.2,593.8 L527.1,603.4 L519.1,613.1 L512.6,621.1 L499.8,626.0 L483.7,634.0 L469.2,638.8 L466.0,644.6 L461.1,638.8 L448.3,634.0 L432.2,634.0 L419.3,630.8 L404.7,628.5 L393.5,634.9 L391.9,646.2 L385.4,647.8 L382.2,633.3 L366.1,631.7 L346.8,634.9 L324.3,633.3 L314.6,626.9 L301.7,622.0 L292.1,615.6 L279.2,606.0 L266.4,604.3 L250.3,594.7 L231.0,581.8 L218.1,578.6 L211.6,585.0 L205.2,580.2 L192.3,573.8 L176.2,565.7 L160.2,560.9 L152.1,544.8 L148.9,531.9 L152.1,527.1 L158.5,531.9 L165.0,530.3 L166.6,522.3 L156.9,511.0 L155.3,494.9 L163.4,488.5 L150.5,483.7 L142.5,472.4 L139.2,462.8 L121.5,461.1 L108.7,457.9 L95.8,451.5 L92.6,438.6 L82.9,432.2 L73.3,427.4 L60.4,424.1 L73.3,420.9 L70.1,412.9 L69.7,412.7 L68.4,401.9 L63.6,395.8 L51.5,392.2 L45.5,393.4 L44.3,388.6 L40.7,385.0 L41.9,381.4 Z" fill="none" stroke="#000" stroke-width="3.2" stroke-linejoin="round" filter="url(#jag)"/>
</g>
<g transform="translate(-9,1665.5)">
<g clip-path="url(#mapclip)">
<g filter="url(#fcB)">
<rect x="25" y="100" width="1175" height="565" fill="#000"/>
<path d="M20.0,100.0 L1200.0,100.0 L1200.0,665.0 L20.0,665.0 Z" fill="rgb(3,0,0)"/>
<path d="M30.0,330.0 L200.0,320.0 L200.0,470.0 L140.0,470.0 L30.0,420.0 Z" fill="rgb(6,0,0)"/>
<path d="M190.0,235.0 L300.0,195.0 L340.0,150.0 L440.0,180.0 L440.0,245.0 L540.0,255.0 L545.0,300.0 L420.0,300.0 L300.0,335.0 L190.0,330.0 Z" fill="rgb(5,0,0)"/>
<ellipse cx="268" cy="225" rx="30" ry="13" transform="rotate(-20 268 225)" fill="rgb(6,0,0)"/>
<path d="M363.0,165.0 L400.0,175.0 L435.0,205.0 L430.0,220.0 L400.0,215.0 L363.0,195.0 Z" fill="rgb(51,0,0)"/>
<path d="M192.0,255.0 L425.0,250.0 L425.0,318.0 L192.0,318.0 Z" fill="rgb(10,0,0)"/>
<ellipse cx="331" cy="274" rx="18" ry="8" transform="rotate(0 331 274)" fill="rgb(13,0,0)"/>
<ellipse cx="402" cy="275" rx="24" ry="9" transform="rotate(0 402 275)" fill="rgb(13,0,0)"/>
<path d="M138.0,380.0 L425.0,380.0 L425.0,451.0 L138.0,451.0 Z" fill="rgb(6,0,0)"/>
<ellipse cx="190" cy="438" rx="45" ry="12" transform="rotate(10 190 438)" fill="rgb(38,0,0)"/>
<path d="M195.0,335.0 L260.0,318.0 L330.0,318.0 L420.0,305.0 L540.0,302.0 L640.0,310.0 L700.0,316.0 L730.0,330.0 L700.0,356.0 L620.0,362.0 L560.0,372.0 L540.0,415.0 L480.0,438.0 L380.0,440.0 L300.0,440.0 L230.0,432.0 L200.0,410.0 L185.0,375.0 Z" fill="rgb(1,0,0)"/>
<ellipse cx="300" cy="395" rx="90" ry="25" transform="rotate(5 300 395)" fill="rgb(0,0,0)"/>
<path d="M120.0,450.0 L700.0,455.0 L740.0,540.0 L720.0,680.0 L430.0,680.0 L120.0,600.0 Z" fill="rgb(17,0,0)"/>
<ellipse cx="275" cy="471" rx="72" ry="12" transform="rotate(3 275 471)" fill="rgb(10,0,0)"/>
<path d="M120.0,480.0 L266.0,480.0 L266.0,545.0 L120.0,545.0 Z" fill="rgb(42,0,0)"/>
<path d="M266.0,485.0 L420.0,485.0 L420.0,610.0 L266.0,610.0 Z" fill="rgb(18,0,0)"/>
<path d="M120.0,545.0 L266.0,545.0 L266.0,620.0 L120.0,620.0 Z" fill="rgb(28,0,0)"/>
<ellipse cx="650" cy="503" rx="40" ry="22" transform="rotate(0 650 503)" fill="rgb(13,0,0)"/>
<ellipse cx="465" cy="547" rx="40" ry="24" transform="rotate(0 465 547)" fill="rgb(13,0,0)"/>
<ellipse cx="595" cy="562" rx="10" ry="25" transform="rotate(0 595 562)" fill="rgb(6,0,0)"/>
<path d="M521.0,360.0 L698.0,360.0 L698.0,417.0 L521.0,417.0 Z" fill="rgb(8,0,0)"/>
<path d="M425.0,244.0 L531.0,250.0 L531.0,305.0 L425.0,300.0 Z" fill="rgb(5,0,0)"/>
<path d="M522.0,417.0 L698.0,417.0 L698.0,458.0 L522.0,458.0 Z" fill="rgb(13,0,0)"/>
<path d="M690.0,300.0 L760.0,300.0 L800.0,310.0 L800.0,470.0 L720.0,480.0 L690.0,420.0 Z" fill="rgb(15,0,0)"/>
<ellipse cx="729" cy="359" rx="20" ry="15" transform="rotate(0 729 359)" fill="rgb(64,0,0)"/>
<path d="M800.0,300.0 L900.0,270.0 L970.0,290.0 L975.0,345.0 L940.0,380.0 L920.0,410.0 L885.0,430.0 L870.0,470.0 L800.0,470.0 Z" fill="rgb(51,0,0)"/>
<ellipse cx="850" cy="322" rx="42" ry="17" transform="rotate(-10 850 322)" fill="rgb(96,0,0)"/>
<ellipse cx="852" cy="392" rx="55" ry="42" transform="rotate(-20 852 392)" fill="rgb(159,0,0)"/>
<path d="M888.0,304.0 L958.0,300.0 L965.0,364.0 L888.0,364.0 Z" fill="rgb(51,0,0)"/>
<path d="M878.0,240.0 L1023.0,240.0 L1023.0,319.0 L878.0,319.0 Z" fill="rgb(45,0,0)"/>
<ellipse cx="1000" cy="297" rx="24" ry="12" transform="rotate(-10 1000 297)" fill="rgb(38,0,0)"/>
<path d="M1023.0,204.0 L1131.0,204.0 L1131.0,242.0 L1023.0,242.0 Z" fill="rgb(70,0,0)"/>
<path d="M1023.0,242.0 L1076.0,242.0 L1076.0,320.0 L1023.0,320.0 Z" fill="rgb(18,0,0)"/>
<path d="M1076.0,242.0 L1170.0,242.0 L1170.0,304.0 L1076.0,304.0 Z" fill="rgb(76,0,0)"/>
<ellipse cx="1050" cy="322" rx="50" ry="13" transform="rotate(-8 1050 322)" fill="rgb(6,0,0)"/>
<path d="M992.0,186.0 L988.0,170.0 L1015.0,136.0 L1035.0,144.0 L1065.0,134.0 L1076.0,125.0 L1078.0,190.0 L1050.0,183.0 L1030.0,188.0 Z" fill="rgb(166,0,0)"/>
<ellipse cx="1031" cy="157" rx="14" ry="6" transform="rotate(-30 1031 157)" fill="rgb(0,0,0)"/>
<path d="M1076.0,115.0 L1115.0,119.0 L1115.0,197.0 L1090.0,215.0 L1076.0,197.0 Z" fill="rgb(45,0,0)"/>
<path d="M1115.0,100.0 L1200.0,100.0 L1200.0,213.0 L1115.0,213.0 Z" fill="rgb(3,0,0)"/>
</g>
<g filter="url(#fcO)">
<rect x="25" y="100" width="1175" height="565" fill="#000"/>
<path d="M20.0,100.0 L1200.0,100.0 L1200.0,665.0 L20.0,665.0 Z" fill="rgb(3,0,0)"/>
<path d="M30.0,330.0 L200.0,320.0 L200.0,470.0 L140.0,470.0 L30.0,420.0 Z" fill="rgb(3,0,0)"/>
<path d="M190.0,235.0 L300.0,195.0 L340.0,150.0 L440.0,180.0 L440.0,245.0 L540.0,255.0 L545.0,300.0 L420.0,300.0 L300.0,335.0 L190.0,330.0 Z" fill="rgb(5,0,0)"/>
<ellipse cx="268" cy="225" rx="30" ry="13" transform="rotate(-20 268 225)" fill="rgb(13,0,0)"/>
<path d="M363.0,165.0 L400.0,175.0 L435.0,205.0 L430.0,220.0 L400.0,215.0 L363.0,195.0 Z" fill="rgb(6,0,0)"/>
<path d="M192.0,255.0 L425.0,250.0 L425.0,318.0 L192.0,318.0 Z" fill="rgb(8,0,0)"/>
<ellipse cx="331" cy="274" rx="18" ry="8" transform="rotate(0 331 274)" fill="rgb(38,0,0)"/>
<ellipse cx="402" cy="275" rx="24" ry="9" transform="rotate(0 402 275)" fill="rgb(38,0,0)"/>
<path d="M138.0,380.0 L425.0,380.0 L425.0,451.0 L138.0,451.0 Z" fill="rgb(6,0,0)"/>
<path d="M195.0,335.0 L260.0,318.0 L330.0,318.0 L420.0,305.0 L540.0,302.0 L640.0,310.0 L700.0,316.0 L730.0,330.0 L700.0,356.0 L620.0,362.0 L560.0,372.0 L540.0,415.0 L480.0,438.0 L380.0,440.0 L300.0,440.0 L230.0,432.0 L200.0,410.0 L185.0,375.0 Z" fill="rgb(1,0,0)"/>
<ellipse cx="300" cy="395" rx="90" ry="25" transform="rotate(5 300 395)" fill="rgb(0,0,0)"/>
<path d="M120.0,450.0 L700.0,455.0 L740.0,540.0 L720.0,680.0 L430.0,680.0 L120.0,600.0 Z" fill="rgb(13,0,0)"/>
<ellipse cx="275" cy="471" rx="72" ry="12" transform="rotate(3 275 471)" fill="rgb(64,0,0)"/>
<path d="M120.0,480.0 L266.0,480.0 L266.0,545.0 L120.0,545.0 Z" fill="rgb(10,0,0)"/>
<path d="M266.0,485.0 L420.0,485.0 L420.0,610.0 L266.0,610.0 Z" fill="rgb(11,0,0)"/>
<path d="M120.0,545.0 L266.0,545.0 L266.0,620.0 L120.0,620.0 Z" fill="rgb(10,0,0)"/>
<ellipse cx="650" cy="503" rx="40" ry="22" transform="rotate(0 650 503)" fill="rgb(6,0,0)"/>
<ellipse cx="465" cy="547" rx="40" ry="24" transform="rotate(0 465 547)" fill="rgb(6,0,0)"/>
<ellipse cx="595" cy="562" rx="10" ry="25" transform="rotate(0 595 562)" fill="rgb(6,0,0)"/>
<path d="M521.0,360.0 L698.0,360.0 L698.0,417.0 L521.0,417.0 Z" fill="rgb(6,0,0)"/>
<path d="M425.0,244.0 L531.0,250.0 L531.0,305.0 L425.0,300.0 Z" fill="rgb(19,0,0)"/>
<path d="M522.0,417.0 L698.0,417.0 L698.0,458.0 L522.0,458.0 Z" fill="rgb(9,0,0)"/>
<path d="M690.0,300.0 L760.0,300.0 L800.0,310.0 L800.0,470.0 L720.0,480.0 L690.0,420.0 Z" fill="rgb(3,0,0)"/>
<path d="M800.0,300.0 L900.0,270.0 L970.0,290.0 L975.0,345.0 L940.0,380.0 L920.0,410.0 L885.0,430.0 L870.0,470.0 L800.0,470.0 Z" fill="rgb(3,0,0)"/>
<ellipse cx="850" cy="322" rx="42" ry="17" transform="rotate(-10 850 322)" fill="rgb(3,0,0)"/>
<ellipse cx="852" cy="392" rx="55" ry="42" transform="rotate(-20 852 392)" fill="rgb(3,0,0)"/>
<path d="M888.0,304.0 L958.0,300.0 L965.0,364.0 L888.0,364.0 Z" fill="rgb(4,0,0)"/>
<path d="M878.0,240.0 L1023.0,240.0 L1023.0,319.0 L878.0,319.0 Z" fill="rgb(6,0,0)"/>
<ellipse cx="1000" cy="297" rx="24" ry="12" transform="rotate(-10 1000 297)" fill="rgb(4,0,0)"/>
<path d="M1023.0,204.0 L1131.0,204.0 L1131.0,242.0 L1023.0,242.0 Z" fill="rgb(10,0,0)"/>
<path d="M1023.0,242.0 L1076.0,242.0 L1076.0,320.0 L1023.0,320.0 Z" fill="rgb(5,0,0)"/>
<path d="M1076.0,242.0 L1170.0,242.0 L1170.0,304.0 L1076.0,304.0 Z" fill="rgb(10,0,0)"/>
<ellipse cx="1050" cy="322" rx="50" ry="13" transform="rotate(-8 1050 322)" fill="rgb(3,0,0)"/>
<path d="M992.0,186.0 L988.0,170.0 L1015.0,136.0 L1035.0,144.0 L1065.0,134.0 L1076.0,125.0 L1078.0,190.0 L1050.0,183.0 L1030.0,188.0 Z" fill="rgb(13,0,0)"/>
<ellipse cx="1031" cy="157" rx="14" ry="6" transform="rotate(-30 1031 157)" fill="rgb(0,0,0)"/>
<path d="M1076.0,115.0 L1115.0,119.0 L1115.0,197.0 L1090.0,215.0 L1076.0,197.0 Z" fill="rgb(3,0,0)"/>
<path d="M1115.0,100.0 L1200.0,100.0 L1200.0,213.0 L1115.0,213.0 Z" fill="rgb(0,0,0)"/>
</g>
<g filter="url(#fcL)">
<rect x="25" y="100" width="1175" height="565" fill="#000"/>
<path d="M20.0,100.0 L1200.0,100.0 L1200.0,665.0 L20.0,665.0 Z" fill="rgb(3,0,0)"/>
<path d="M30.0,330.0 L200.0,320.0 L200.0,470.0 L140.0,470.0 L30.0,420.0 Z" fill="rgb(6,0,0)"/>
<path d="M190.0,235.0 L300.0,195.0 L340.0,150.0 L440.0,180.0 L440.0,245.0 L540.0,255.0 L545.0,300.0 L420.0,300.0 L300.0,335.0 L190.0,330.0 Z" fill="rgb(5,0,0)"/>
<ellipse cx="268" cy="225" rx="30" ry="13" transform="rotate(-20 268 225)" fill="rgb(51,0,0)"/>
<path d="M363.0,165.0 L400.0,175.0 L435.0,205.0 L430.0,220.0 L400.0,215.0 L363.0,195.0 Z" fill="rgb(10,0,0)"/>
<path d="M192.0,255.0 L425.0,250.0 L425.0,318.0 L192.0,318.0 Z" fill="rgb(9,0,0)"/>
<ellipse cx="331" cy="274" rx="18" ry="8" transform="rotate(0 331 274)" fill="rgb(26,0,0)"/>
<ellipse cx="402" cy="275" rx="24" ry="9" transform="rotate(0 402 275)" fill="rgb(26,0,0)"/>
<path d="M138.0,380.0 L425.0,380.0 L425.0,451.0 L138.0,451.0 Z" fill="rgb(6,0,0)"/>
<path d="M195.0,335.0 L260.0,318.0 L330.0,318.0 L420.0,305.0 L540.0,302.0 L640.0,310.0 L700.0,316.0 L730.0,330.0 L700.0,356.0 L620.0,362.0 L560.0,372.0 L540.0,415.0 L480.0,438.0 L380.0,440.0 L300.0,440.0 L230.0,432.0 L200.0,410.0 L185.0,375.0 Z" fill="rgb(1,0,0)"/>
<ellipse cx="300" cy="395" rx="90" ry="25" transform="rotate(5 300 395)" fill="rgb(0,0,0)"/>
<path d="M120.0,450.0 L700.0,455.0 L740.0,540.0 L720.0,680.0 L430.0,680.0 L120.0,600.0 Z" fill="rgb(19,0,0)"/>
<ellipse cx="275" cy="471" rx="72" ry="12" transform="rotate(3 275 471)" fill="rgb(19,0,0)"/>
<path d="M120.0,480.0 L266.0,480.0 L266.0,545.0 L120.0,545.0 Z" fill="rgb(10,0,0)"/>
<path d="M266.0,485.0 L420.0,485.0 L420.0,610.0 L266.0,610.0 Z" fill="rgb(18,0,0)"/>
<path d="M120.0,545.0 L266.0,545.0 L266.0,620.0 L120.0,620.0 Z" fill="rgb(13,0,0)"/>
<ellipse cx="650" cy="503" rx="40" ry="22" transform="rotate(0 650 503)" fill="rgb(57,0,0)"/>
<ellipse cx="465" cy="547" rx="40" ry="24" transform="rotate(0 465 547)" fill="rgb(51,0,0)"/>
<ellipse cx="595" cy="562" rx="10" ry="25" transform="rotate(0 595 562)" fill="rgb(51,0,0)"/>
<path d="M521.0,360.0 L698.0,360.0 L698.0,417.0 L521.0,417.0 Z" fill="rgb(13,0,0)"/>
<path d="M425.0,244.0 L531.0,250.0 L531.0,305.0 L425.0,300.0 Z" fill="rgb(8,0,0)"/>
<path d="M522.0,417.0 L698.0,417.0 L698.0,458.0 L522.0,458.0 Z" fill="rgb(13,0,0)"/>
<path d="M690.0,300.0 L760.0,300.0 L800.0,310.0 L800.0,470.0 L720.0,480.0 L690.0,420.0 Z" fill="rgb(5,0,0)"/>
<path d="M800.0,300.0 L900.0,270.0 L970.0,290.0 L975.0,345.0 L940.0,380.0 L920.0,410.0 L885.0,430.0 L870.0,470.0 L800.0,470.0 Z" fill="rgb(10,0,0)"/>
<ellipse cx="850" cy="322" rx="42" ry="17" transform="rotate(-10 850 322)" fill="rgb(5,0,0)"/>
<ellipse cx="852" cy="392" rx="55" ry="42" transform="rotate(-20 852 392)" fill="rgb(3,0,0)"/>
<path d="M888.0,304.0 L958.0,300.0 L965.0,364.0 L888.0,364.0 Z" fill="rgb(15,0,0)"/>
<path d="M878.0,240.0 L1023.0,240.0 L1023.0,319.0 L878.0,319.0 Z" fill="rgb(38,0,0)"/>
<ellipse cx="1000" cy="297" rx="24" ry="12" transform="rotate(-10 1000 297)" fill="rgb(13,0,0)"/>
<path d="M1023.0,204.0 L1131.0,204.0 L1131.0,242.0 L1023.0,242.0 Z" fill="rgb(4,0,0)"/>
<path d="M1023.0,242.0 L1076.0,242.0 L1076.0,320.0 L1023.0,320.0 Z" fill="rgb(5,0,0)"/>
<path d="M1076.0,242.0 L1170.0,242.0 L1170.0,304.0 L1076.0,304.0 Z" fill="rgb(3,0,0)"/>
<ellipse cx="1050" cy="322" rx="50" ry="13" transform="rotate(-8 1050 322)" fill="rgb(4,0,0)"/>
<path d="M992.0,186.0 L988.0,170.0 L1015.0,136.0 L1035.0,144.0 L1065.0,134.0 L1076.0,125.0 L1078.0,190.0 L1050.0,183.0 L1030.0,188.0 Z" fill="rgb(0,0,0)"/>
<ellipse cx="1031" cy="157" rx="14" ry="6" transform="rotate(-30 1031 157)" fill="rgb(0,0,0)"/>
<path d="M1076.0,115.0 L1115.0,119.0 L1115.0,197.0 L1090.0,215.0 L1076.0,197.0 Z" fill="rgb(0,0,0)"/>
<path d="M1115.0,100.0 L1200.0,100.0 L1200.0,213.0 L1115.0,213.0 Z" fill="rgb(0,0,0)"/>
</g>
<g filter="url(#fcC)">
<rect x="25" y="100" width="1175" height="565" fill="#000"/>
<path d="M20.0,100.0 L1200.0,100.0 L1200.0,665.0 L20.0,665.0 Z" fill="rgb(3,0,0)"/>
<path d="M30.0,330.0 L200.0,320.0 L200.0,470.0 L140.0,470.0 L30.0,420.0 Z" fill="rgb(4,0,0)"/>
<path d="M190.0,235.0 L300.0,195.0 L340.0,150.0 L440.0,180.0 L440.0,245.0 L540.0,255.0 L545.0,300.0 L420.0,300.0 L300.0,335.0 L190.0,330.0 Z" fill="rgb(6,0,0)"/>
<path d="M192.0,255.0 L425.0,250.0 L425.0,318.0 L192.0,318.0 Z" fill="rgb(11,0,0)"/>
<path d="M138.0,380.0 L425.0,380.0 L425.0,451.0 L138.0,451.0 Z" fill="rgb(5,0,0)"/>
<path d="M195.0,335.0 L260.0,318.0 L330.0,318.0 L420.0,305.0 L540.0,302.0 L640.0,310.0 L700.0,316.0 L730.0,330.0 L700.0,356.0 L620.0,362.0 L560.0,372.0 L540.0,415.0 L480.0,438.0 L380.0,440.0 L300.0,440.0 L230.0,432.0 L200.0,410.0 L185.0,375.0 Z" fill="rgb(1,0,0)"/>
<ellipse cx="300" cy="395" rx="90" ry="25" transform="rotate(5 300 395)" fill="rgb(0,0,0)"/>
<path d="M120.0,450.0 L700.0,455.0 L740.0,540.0 L720.0,680.0 L430.0,680.0 L120.0,600.0 Z" fill="rgb(10,0,0)"/>
<path d="M120.0,480.0 L266.0,480.0 L266.0,545.0 L120.0,545.0 Z" fill="rgb(13,0,0)"/>
<path d="M266.0,485.0 L420.0,485.0 L420.0,610.0 L266.0,610.0 Z" fill="rgb(9,0,0)"/>
<path d="M120.0,545.0 L266.0,545.0 L266.0,620.0 L120.0,620.0 Z" fill="rgb(10,0,0)"/>
<ellipse cx="658" cy="440" rx="24" ry="8" transform="rotate(0 658 440)" fill="rgb(38,0,0)"/>
<path d="M521.0,360.0 L698.0,360.0 L698.0,417.0 L521.0,417.0 Z" fill="rgb(8,0,0)"/>
<path d="M425.0,244.0 L531.0,250.0 L531.0,305.0 L425.0,300.0 Z" fill="rgb(10,0,0)"/>
<path d="M522.0,417.0 L698.0,417.0 L698.0,458.0 L522.0,458.0 Z" fill="rgb(9,0,0)"/>
<path d="M690.0,300.0 L760.0,300.0 L800.0,310.0 L800.0,470.0 L720.0,480.0 L690.0,420.0 Z" fill="rgb(6,0,0)"/>
<path d="M800.0,300.0 L900.0,270.0 L970.0,290.0 L975.0,345.0 L940.0,380.0 L920.0,410.0 L885.0,430.0 L870.0,470.0 L800.0,470.0 Z" fill="rgb(5,0,0)"/>
<ellipse cx="850" cy="322" rx="42" ry="17" transform="rotate(-10 850 322)" fill="rgb(3,0,0)"/>
<ellipse cx="852" cy="392" rx="55" ry="42" transform="rotate(-20 852 392)" fill="rgb(3,0,0)"/>
<path d="M888.0,304.0 L958.0,300.0 L965.0,364.0 L888.0,364.0 Z" fill="rgb(5,0,0)"/>
<path d="M878.0,240.0 L1023.0,240.0 L1023.0,319.0 L878.0,319.0 Z" fill="rgb(8,0,0)"/>
<ellipse cx="1000" cy="297" rx="24" ry="12" transform="rotate(-10 1000 297)" fill="rgb(38,0,0)"/>
<path d="M1023.0,204.0 L1131.0,204.0 L1131.0,242.0 L1023.0,242.0 Z" fill="rgb(4,0,0)"/>
<path d="M1023.0,242.0 L1076.0,242.0 L1076.0,320.0 L1023.0,320.0 Z" fill="rgb(3,0,0)"/>
<path d="M1076.0,242.0 L1170.0,242.0 L1170.0,304.0 L1076.0,304.0 Z" fill="rgb(4,0,0)"/>
<ellipse cx="1050" cy="322" rx="50" ry="13" transform="rotate(-8 1050 322)" fill="rgb(3,0,0)"/>
<path d="M992.0,186.0 L988.0,170.0 L1015.0,136.0 L1035.0,144.0 L1065.0,134.0 L1076.0,125.0 L1078.0,190.0 L1050.0,183.0 L1030.0,188.0 Z" fill="rgb(1,0,0)"/>
<ellipse cx="1031" cy="157" rx="14" ry="6" transform="rotate(-30 1031 157)" fill="rgb(0,0,0)"/>
<path d="M1076.0,115.0 L1115.0,119.0 L1115.0,197.0 L1090.0,215.0 L1076.0,197.0 Z" fill="rgb(4,0,0)"/>
<path d="M1115.0,100.0 L1200.0,100.0 L1200.0,213.0 L1115.0,213.0 Z" fill="rgb(1,0,0)"/>
</g>
</g>
<path d="M36.6,375.3 L43.1,371.7 L46.7,359.6 L49.1,357.2 L56.4,356.0 L67.2,348.8 L84.1,345.6 L87.3,353.6 L102.2,350.0 L108.3,345.2 L111.9,336.7 L124.0,333.1 L138.4,326.6 L144.5,327.8 L159.0,321.0 L169.8,318.6 L184.3,312.6 L191.5,309.0 L190.3,299.3 L194.0,293.3 L201.2,289.6 L202.4,282.4 L196.4,270.3 L191.5,255.8 L191.5,251.0 L181.9,249.8 L184.3,246.2 L198.8,243.8 L222.9,239.4 L232.6,240.2 L241.0,242.6 L243.4,241.4 L237.4,237.7 L236.2,226.9 L253.1,197.9 L262.7,199.1 L278.4,203.2 L297.7,200.3 L311.8,200.8 L310.1,180.5 L315.2,170.4 L333.8,167.0 L337.2,156.9 L343.9,154.2 L360.8,153.5 L364.2,163.7 L379.4,173.8 L398.0,180.5 L411.5,183.9 L420.0,190.7 L426.7,202.5 L435.2,211.0 L431.8,221.1 L426.7,234.6 L430.1,241.4 L441.9,244.1 L462.2,246.4 L489.2,247.5 L502.7,253.2 L516.3,261.6 L533.1,263.3 L531.5,268.4 L543.3,285.3 L556.8,297.1 L577.1,297.1 L614.2,301.5 L648.0,298.8 L678.4,303.9 L685.2,309.0 L700.0,311.9 L714.5,316.7 L738.6,317.9 L741.0,322.8 L750.7,322.3 L770.0,314.3 L784.5,309.5 L806.2,304.6 L844.8,304.6 L864.1,299.8 L876.2,293.8 L885.8,285.3 L895.4,277.7 L905.7,273.8 L898.0,264.8 L896.7,257.1 L904.5,246.8 L918.6,246.8 L926.3,250.6 L944.4,251.9 L967.5,240.3 L988.1,237.7 L1006.2,230.0 L1011.3,221.0 L1031.9,213.3 L1055.1,209.4 L1075.7,209.4 L1087.3,210.7 L1088.5,203.0 L1083.4,195.3 L1070.5,187.5 L1049.9,181.1 L1031.9,185.0 L1021.6,182.4 L993.3,183.7 L989.4,176.0 L995.9,169.5 L999.7,159.2 L1015.2,138.6 L1034.5,146.3 L1049.9,141.2 L1065.4,136.0 L1075.7,129.6 L1071.8,125.7 L1078.2,115.4 L1089.7,109.7 L1093.3,113.3 L1103.9,123.0 L1114.5,130.1 L1123.4,133.6 L1121.6,138.1 L1118.1,140.7 L1125.1,146.9 L1134.0,148.7 L1146.4,146.0 L1157.0,134.5 L1165.8,124.8 L1174.7,118.6 L1183.5,120.4 L1187.1,126.5 L1189.7,135.4 L1186.2,142.5 L1181.8,153.1 L1171.2,156.6 L1164.1,160.2 L1162.3,167.3 L1165.8,172.6 L1158.8,174.3 L1149.9,176.1 L1146.4,183.2 L1142.8,193.8 L1139.3,204.4 L1134.0,211.5 L1130.4,220.4 L1134.0,227.4 L1142.8,236.3 L1149.1,246.8 L1158.1,264.8 L1165.8,277.7 L1163.2,288.0 L1152.9,298.3 L1137.5,303.4 L1116.9,308.5 L1104.0,312.4 L1091.1,318.8 L1083.4,324.0 L1070.5,326.6 L1049.9,327.9 L1047.4,330.4 L1034.5,331.7 L1021.6,334.3 L1003.6,334.3 L983.0,335.6 L970.3,339.6 L966.7,350.5 L953.4,356.5 L942.6,362.6 L938.9,372.2 L926.9,378.3 L919.6,381.9 L918.4,404.8 L912.4,408.4 L900.3,412.1 L888.3,418.1 L879.8,415.7 L878.6,421.7 L866.5,430.2 L864.1,438.6 L864.1,449.5 L854.5,447.0 L844.8,448.3 L840.0,453.1 L835.2,448.3 L827.9,444.6 L820.7,443.4 L813.4,447.0 L808.6,450.7 L799.0,450.7 L791.7,454.3 L779.6,457.9 L774.9,463.4 L763.6,473.1 L747.6,477.3 L726.6,475.4 L720.5,478.4 L718.1,485.7 L724.1,491.7 L731.4,498.9 L734.7,498.8 L736.3,503.7 L731.5,516.5 L736.3,524.6 L741.1,531.0 L728.2,529.4 L729.8,539.1 L726.6,550.3 L718.6,558.4 L710.5,564.8 L702.5,574.5 L691.2,584.1 L686.4,597.0 L689.6,608.3 L686.4,616.3 L678.4,626.0 L676.7,635.6 L663.9,638.8 L654.2,635.6 L655.8,643.7 L647.8,649.1 L644.6,654.9 L636.5,650.1 L628.5,637.2 L618.8,629.2 L599.5,619.5 L580.2,609.9 L560.9,607.3 L548.0,600.2 L535.2,593.8 L527.1,603.4 L519.1,613.1 L512.6,621.1 L499.8,626.0 L483.7,634.0 L469.2,638.8 L466.0,644.6 L461.1,638.8 L448.3,634.0 L432.2,634.0 L419.3,630.8 L404.7,628.5 L393.5,634.9 L391.9,646.2 L385.4,647.8 L382.2,633.3 L366.1,631.7 L346.8,634.9 L324.3,633.3 L314.6,626.9 L301.7,622.0 L292.1,615.6 L279.2,606.0 L266.4,604.3 L250.3,594.7 L231.0,581.8 L218.1,578.6 L211.6,585.0 L205.2,580.2 L192.3,573.8 L176.2,565.7 L160.2,560.9 L152.1,544.8 L148.9,531.9 L152.1,527.1 L158.5,531.9 L165.0,530.3 L166.6,522.3 L156.9,511.0 L155.3,494.9 L163.4,488.5 L150.5,483.7 L142.5,472.4 L139.2,462.8 L121.5,461.1 L108.7,457.9 L95.8,451.5 L92.6,438.6 L82.9,432.2 L73.3,427.4 L60.4,424.1 L73.3,420.9 L70.1,412.9 L69.7,412.7 L68.4,401.9 L63.6,395.8 L51.5,392.2 L45.5,393.4 L44.3,388.6 L40.7,385.0 L41.9,381.4 Z" fill="none" stroke="#000" stroke-width="3.2" stroke-linejoin="round" filter="url(#jag)"/>
</g>
<rect x="16.25" y="14.25" width="1268.5" height="2514" fill="none" stroke="#000" stroke-width="6.6" stroke-linejoin="round"/>
<rect x="13" y="848.3" width="1275" height="6.8" fill="#000"/>
<rect x="13" y="1668.1" width="1275" height="6.7" fill="#000"/>
<text x="33.5" y="86.4" style="font-family:'Liberation Serif',serif;font-weight:bold;font-size:79.5px">(a) 1982−2018</text>
<text x="33.5" y="924.2" style="font-family:'Liberation Serif',serif;font-weight:bold;font-size:79.5px">(b) 1982−1997</text>
<text x="33.5" y="1742.8" style="font-family:'Liberation Serif',serif;font-weight:bold;font-size:79.5px">(c) 1998−2018</text>
<rect x="789.40" y="521.00" width="37.4" height="29.29" fill="#808000"/>
<rect x="789.40" y="549.99" width="37.4" height="108.36" fill="#fdb047"/>
<rect x="789.40" y="658.05" width="37.4" height="34.56" fill="#00e3ff"/>
<rect x="789.40" y="692.32" width="37.4" height="95.18" fill="#005ce6"/>
<text x="808.10" y="545.80" text-anchor="middle" style="font-family:'Liberation Serif',serif;font-weight:bold;font-size:31.5px">11%</text>
<text x="808.10" y="614.32" text-anchor="middle" style="font-family:'Liberation Serif',serif;font-weight:bold;font-size:31.5px">41%</text>
<text x="808.10" y="685.49" text-anchor="middle" style="font-family:'Liberation Serif',serif;font-weight:bold;font-size:31.5px">13%</text>
<text x="808.10" y="750.06" text-anchor="middle" style="font-family:'Liberation Serif',serif;font-weight:bold;font-size:31.5px">36%</text>
<rect x="858.33" y="521.00" width="37.4" height="37.94" fill="#808000"/>
<rect x="858.33" y="558.64" width="37.4" height="164.32" fill="#fdb047"/>
<rect x="858.33" y="722.67" width="37.4" height="40.63" fill="#00e3ff"/>
<rect x="858.33" y="763.00" width="37.4" height="24.50" fill="#005ce6"/>
<text x="877.03" y="550.12" text-anchor="middle" style="font-family:'Liberation Serif',serif;font-weight:bold;font-size:31.5px">14%</text>
<text x="877.03" y="650.96" text-anchor="middle" style="font-family:'Liberation Serif',serif;font-weight:bold;font-size:31.5px">61%</text>
<text x="877.03" y="753.13" text-anchor="middle" style="font-family:'Liberation Serif',serif;font-weight:bold;font-size:31.5px">15%</text>
<text x="877.03" y="785.40" text-anchor="middle" style="font-family:'Liberation Serif',serif;font-weight:bold;font-size:31.5px">9%</text>
<rect x="927.26" y="521.00" width="37.4" height="32.24" fill="#808000"/>
<rect x="927.26" y="552.94" width="37.4" height="170.67" fill="#fdb047"/>
<rect x="927.26" y="723.31" width="37.4" height="37.57" fill="#00e3ff"/>
<rect x="927.26" y="760.58" width="37.4" height="26.92" fill="#005ce6"/>
<text x="945.96" y="547.27" text-anchor="middle" style="font-family:'Liberation Serif',serif;font-weight:bold;font-size:31.5px">12%</text>
<text x="945.96" y="648.43" text-anchor="middle" style="font-family:'Liberation Serif',serif;font-weight:bold;font-size:31.5px">64%</text>
<text x="945.96" y="752.25" text-anchor="middle" style="font-family:'Liberation Serif',serif;font-weight:bold;font-size:31.5px">14%</text>
<text x="945.96" y="784.19" text-anchor="middle" style="font-family:'Liberation Serif',serif;font-weight:bold;font-size:31.5px">10%</text>
<rect x="996.19" y="521.00" width="37.4" height="55.65" fill="#808000"/>
<rect x="996.19" y="576.35" width="37.4" height="92.55" fill="#fdb047"/>
<rect x="996.19" y="668.60" width="37.4" height="45.11" fill="#00e3ff"/>
<rect x="996.19" y="713.40" width="37.4" height="74.10" fill="#005ce6"/>
<text x="1014.89" y="558.97" text-anchor="middle" style="font-family:'Liberation Serif',serif;font-weight:bold;font-size:31.5px">21%</text>
<text x="1014.89" y="632.77" text-anchor="middle" style="font-family:'Liberation Serif',serif;font-weight:bold;font-size:31.5px">35%</text>
<text x="1014.89" y="701.30" text-anchor="middle" style="font-family:'Liberation Serif',serif;font-weight:bold;font-size:31.5px">17%</text>
<text x="1014.89" y="760.60" text-anchor="middle" style="font-family:'Liberation Serif',serif;font-weight:bold;font-size:31.5px">28%</text>
<rect x="1065.12" y="521.00" width="37.4" height="16.27" fill="#808000"/>
<rect x="1065.12" y="536.97" width="37.4" height="50.88" fill="#fdb047"/>
<rect x="1065.12" y="587.55" width="37.4" height="24.26" fill="#00e3ff"/>
<rect x="1065.12" y="611.51" width="37.4" height="175.99" fill="#005ce6"/>
<text x="1083.82" y="539.29" text-anchor="middle" style="font-family:'Liberation Serif',serif;font-weight:bold;font-size:31.5px">6%</text>
<text x="1083.82" y="572.56" text-anchor="middle" style="font-family:'Liberation Serif',serif;font-weight:bold;font-size:31.5px">19%</text>
<text x="1083.82" y="609.83" text-anchor="middle" style="font-family:'Liberation Serif',serif;font-weight:bold;font-size:31.5px">9%</text>
<text x="1083.82" y="709.65" text-anchor="middle" style="font-family:'Liberation Serif',serif;font-weight:bold;font-size:31.5px">66%</text>
<rect x="1134.05" y="521.00" width="37.4" height="32.24" fill="#808000"/>
<rect x="1134.05" y="552.94" width="37.4" height="128.08" fill="#fdb047"/>
<rect x="1134.05" y="680.72" width="37.4" height="37.57" fill="#00e3ff"/>
<rect x="1134.05" y="717.99" width="37.4" height="69.51" fill="#005ce6"/>
<text x="1152.75" y="547.27" text-anchor="middle" style="font-family:'Liberation Serif',serif;font-weight:bold;font-size:31.5px">12%</text>
<text x="1152.75" y="627.13" text-anchor="middle" style="font-family:'Liberation Serif',serif;font-weight:bold;font-size:31.5px">48%</text>
<text x="1152.75" y="709.65" text-anchor="middle" style="font-family:'Liberation Serif',serif;font-weight:bold;font-size:31.5px">14%</text>
<text x="1152.75" y="762.89" text-anchor="middle" style="font-family:'Liberation Serif',serif;font-weight:bold;font-size:31.5px">26%</text>
<rect x="1202.98" y="521.00" width="37.4" height="59.46" fill="#808000"/>
<rect x="1202.98" y="580.16" width="37.4" height="86.34" fill="#fdb047"/>
<rect x="1202.98" y="666.20" width="37.4" height="43.32" fill="#00e3ff"/>
<rect x="1202.98" y="709.22" width="37.4" height="78.28" fill="#005ce6"/>
<text x="1221.68" y="560.88" text-anchor="middle" style="font-family:'Liberation Serif',serif;font-weight:bold;font-size:31.5px">22%</text>
<text x="1221.68" y="633.48" text-anchor="middle" style="font-family:'Liberation Serif',serif;font-weight:bold;font-size:31.5px">32%</text>
<text x="1221.68" y="698.01" text-anchor="middle" style="font-family:'Liberation Serif',serif;font-weight:bold;font-size:31.5px">16%</text>
<text x="1221.68" y="758.51" text-anchor="middle" style="font-family:'Liberation Serif',serif;font-weight:bold;font-size:31.5px">29%</text>
<rect x="773.6" y="519.5" width="482.6" height="269.4" fill="none" stroke="#000" stroke-width="3"/>
<rect x="775" y="573.5" width="2.4" height="1.6" fill="#000"/>
<rect x="775" y="626.8" width="2.4" height="1.6" fill="#000"/>
<rect x="775" y="680.1" width="2.4" height="1.6" fill="#000"/>
<rect x="775" y="733.4" width="2.4" height="1.6" fill="#000"/>
<text x="804.10" y="819.5" text-anchor="middle" style="font-family:'Liberation Serif',serif;font-weight:bold;font-size:31.5px">Gross</text>
<text x="877.03" y="819.5" text-anchor="middle" style="font-family:'Liberation Serif',serif;font-weight:bold;font-size:31.5px">AM</text>
<text x="945.96" y="819.5" text-anchor="middle" style="font-family:'Liberation Serif',serif;font-weight:bold;font-size:31.5px">AS</text>
<text x="1014.89" y="819.5" text-anchor="middle" style="font-family:'Liberation Serif',serif;font-weight:bold;font-size:31.5px">TM</text>
<text x="1083.82" y="819.5" text-anchor="middle" style="font-family:'Liberation Serif',serif;font-weight:bold;font-size:31.5px">TS</text>
<text x="1152.75" y="819.5" text-anchor="middle" style="font-family:'Liberation Serif',serif;font-weight:bold;font-size:31.5px">SG</text>
<text x="1221.68" y="819.5" text-anchor="middle" style="font-family:'Liberation Serif',serif;font-weight:bold;font-size:31.5px">SS</text>
<rect x="789.40" y="1341.00" width="37.4" height="45.55" fill="#808000"/>
<rect x="789.40" y="1386.25" width="37.4" height="101.46" fill="#fdb047"/>
<rect x="789.40" y="1487.41" width="37.4" height="56.20" fill="#00e3ff"/>
<rect x="789.40" y="1543.31" width="37.4" height="64.19" fill="#005ce6"/>
<text x="808.10" y="1373.93" text-anchor="middle" style="font-family:'Liberation Serif',serif;font-weight:bold;font-size:31.5px">17%</text>
<text x="808.10" y="1447.13" text-anchor="middle" style="font-family:'Liberation Serif',serif;font-weight:bold;font-size:31.5px">38%</text>
<text x="808.10" y="1525.66" text-anchor="middle" style="font-family:'Liberation Serif',serif;font-weight:bold;font-size:31.5px">21%</text>
<text x="808.10" y="1585.56" text-anchor="middle" style="font-family:'Liberation Serif',serif;font-weight:bold;font-size:31.5px">24%</text>
<rect x="858.33" y="1341.00" width="37.4" height="54.08" fill="#808000"/>
<rect x="858.33" y="1394.78" width="37.4" height="105.17" fill="#fdb047"/>
<rect x="858.33" y="1499.64" width="37.4" height="64.83" fill="#00e3ff"/>
<rect x="858.33" y="1564.18" width="37.4" height="43.32" fill="#005ce6"/>
<text x="877.03" y="1378.19" text-anchor="middle" style="font-family:'Liberation Serif',serif;font-weight:bold;font-size:31.5px">20%</text>
<text x="877.03" y="1457.51" text-anchor="middle" style="font-family:'Liberation Serif',serif;font-weight:bold;font-size:31.5px">39%</text>
<text x="877.03" y="1542.21" text-anchor="middle" style="font-family:'Liberation Serif',serif;font-weight:bold;font-size:31.5px">24%</text>
<text x="877.03" y="1595.99" text-anchor="middle" style="font-family:'Liberation Serif',serif;font-weight:bold;font-size:31.5px">16%</text>
<rect x="927.26" y="1341.00" width="37.4" height="58.86" fill="#808000"/>
<rect x="927.26" y="1399.56" width="37.4" height="98.79" fill="#fdb047"/>
<rect x="927.26" y="1498.06" width="37.4" height="58.86" fill="#00e3ff"/>
<rect x="927.26" y="1556.62" width="37.4" height="50.88" fill="#005ce6"/>
<text x="945.96" y="1380.58" text-anchor="middle" style="font-family:'Liberation Serif',serif;font-weight:bold;font-size:31.5px">22%</text>
<text x="945.96" y="1459.11" text-anchor="middle" style="font-family:'Liberation Serif',serif;font-weight:bold;font-size:31.5px">37%</text>
<text x="945.96" y="1537.64" text-anchor="middle" style="font-family:'Liberation Serif',serif;font-weight:bold;font-size:31.5px">22%</text>
<text x="945.96" y="1592.21" text-anchor="middle" style="font-family:'Liberation Serif',serif;font-weight:bold;font-size:31.5px">19%</text>
<rect x="996.19" y="1341.00" width="37.4" height="50.88" fill="#808000"/>
<rect x="996.19" y="1391.58" width="37.4" height="101.46" fill="#fdb047"/>
<rect x="996.19" y="1492.73" width="37.4" height="69.51" fill="#00e3ff"/>
<rect x="996.19" y="1561.95" width="37.4" height="45.55" fill="#005ce6"/>
<text x="1014.89" y="1376.59" text-anchor="middle" style="font-family:'Liberation Serif',serif;font-weight:bold;font-size:31.5px">19%</text>
<text x="1014.89" y="1452.46" text-anchor="middle" style="font-family:'Liberation Serif',serif;font-weight:bold;font-size:31.5px">38%</text>
<text x="1014.89" y="1537.64" text-anchor="middle" style="font-family:'Liberation Serif',serif;font-weight:bold;font-size:31.5px">26%</text>
<text x="1014.89" y="1594.87" text-anchor="middle" style="font-family:'Liberation Serif',serif;font-weight:bold;font-size:31.5px">17%</text>
<rect x="1065.12" y="1341.00" width="37.4" height="37.20" fill="#808000"/>
<rect x="1065.12" y="1377.90" width="37.4" height="100.45" fill="#fdb047"/>
<rect x="1065.12" y="1478.05" width="37.4" height="47.74" fill="#00e3ff"/>
<rect x="1065.12" y="1525.50" width="37.4" height="82.00" fill="#005ce6"/>
<text x="1083.82" y="1369.75" text-anchor="middle" style="font-family:'Liberation Serif',serif;font-weight:bold;font-size:31.5px">14%</text>
<text x="1083.82" y="1438.28" text-anchor="middle" style="font-family:'Liberation Serif',serif;font-weight:bold;font-size:31.5px">38%</text>
<text x="1083.82" y="1512.07" text-anchor="middle" style="font-family:'Liberation Serif',serif;font-weight:bold;font-size:31.5px">18%</text>
<text x="1083.82" y="1576.65" text-anchor="middle" style="font-family:'Liberation Serif',serif;font-weight:bold;font-size:31.5px">31%</text>
<rect x="1134.05" y="1341.00" width="37.4" height="48.22" fill="#808000"/>
<rect x="1134.05" y="1388.92" width="37.4" height="98.79" fill="#fdb047"/>
<rect x="1134.05" y="1487.41" width="37.4" height="58.86" fill="#00e3ff"/>
<rect x="1134.05" y="1545.97" width="37.4" height="61.53" fill="#005ce6"/>
<text x="1152.75" y="1375.26" text-anchor="middle" style="font-family:'Liberation Serif',serif;font-weight:bold;font-size:31.5px">18%</text>
<text x="1152.75" y="1448.46" text-anchor="middle" style="font-family:'Liberation Serif',serif;font-weight:bold;font-size:31.5px">37%</text>
<text x="1152.75" y="1526.99" text-anchor="middle" style="font-family:'Liberation Serif',serif;font-weight:bold;font-size:31.5px">22%</text>
<text x="1152.75" y="1586.89" text-anchor="middle" style="font-family:'Liberation Serif',serif;font-weight:bold;font-size:31.5px">23%</text>
<rect x="1202.98" y="1341.00" width="37.4" height="37.20" fill="#808000"/>
<rect x="1202.98" y="1377.90" width="37.4" height="89.91" fill="#fdb047"/>
<rect x="1202.98" y="1467.51" width="37.4" height="53.01" fill="#00e3ff"/>
<rect x="1202.98" y="1520.22" width="37.4" height="87.28" fill="#005ce6"/>
<text x="1221.68" y="1369.75" text-anchor="middle" style="font-family:'Liberation Serif',serif;font-weight:bold;font-size:31.5px">14%</text>
<text x="1221.68" y="1433.00" text-anchor="middle" style="font-family:'Liberation Serif',serif;font-weight:bold;font-size:31.5px">34%</text>
<text x="1221.68" y="1504.17" text-anchor="middle" style="font-family:'Liberation Serif',serif;font-weight:bold;font-size:31.5px">20%</text>
<text x="1221.68" y="1574.01" text-anchor="middle" style="font-family:'Liberation Serif',serif;font-weight:bold;font-size:31.5px">33%</text>
<rect x="773.6" y="1339.5" width="482.6" height="269.4" fill="none" stroke="#000" stroke-width="3"/>
<rect x="775" y="1393.5" width="2.4" height="1.6" fill="#000"/>
<rect x="775" y="1446.8" width="2.4" height="1.6" fill="#000"/>
<rect x="775" y="1500.1" width="2.4" height="1.6" fill="#000"/>
<rect x="775" y="1553.4" width="2.4" height="1.6" fill="#000"/>
<text x="804.10" y="1639.5" text-anchor="middle" style="font-family:'Liberation Serif',serif;font-weight:bold;font-size:31.5px">Gross</text>
<text x="877.03" y="1639.5" text-anchor="middle" style="font-family:'Liberation Serif',serif;font-weight:bold;font-size:31.5px">AM</text>
<text x="945.96" y="1639.5" text-anchor="middle" style="font-family:'Liberation Serif',serif;font-weight:bold;font-size:31.5px">AS</text>
<text x="1014.89" y="1639.5" text-anchor="middle" style="font-family:'Liberation Serif',serif;font-weight:bold;font-size:31.5px">TM</text>
<text x="1083.82" y="1639.5" text-anchor="middle" style="font-family:'Liberation Serif',serif;font-weight:bold;font-size:31.5px">TS</text>
<text x="1152.75" y="1639.5" text-anchor="middle" style="font-family:'Liberation Serif',serif;font-weight:bold;font-size:31.5px">SG</text>
<text x="1221.68" y="1639.5" text-anchor="middle" style="font-family:'Liberation Serif',serif;font-weight:bold;font-size:31.5px">SS</text>
<rect x="783.80" y="2188.00" width="37.6" height="71.21" fill="#808000"/>
<rect x="783.80" y="2258.91" width="37.6" height="49.39" fill="#fdb047"/>
<rect x="783.80" y="2308.00" width="37.6" height="43.94" fill="#00e3ff"/>
<rect x="783.80" y="2351.64" width="37.6" height="106.66" fill="#005ce6"/>
<rect x="853.53" y="2188.00" width="37.6" height="132.60" fill="#808000"/>
<rect x="853.53" y="2320.30" width="37.6" height="54.30" fill="#fdb047"/>
<rect x="853.53" y="2374.30" width="37.6" height="43.50" fill="#00e3ff"/>
<rect x="853.53" y="2417.50" width="37.6" height="40.80" fill="#005ce6"/>
<rect x="923.26" y="2188.00" width="37.6" height="92.10" fill="#808000"/>
<rect x="923.26" y="2279.80" width="37.6" height="67.80" fill="#fdb047"/>
<rect x="923.26" y="2347.30" width="37.6" height="57.00" fill="#00e3ff"/>
<rect x="923.26" y="2404.00" width="37.6" height="54.30" fill="#005ce6"/>
<rect x="992.99" y="2188.00" width="37.6" height="61.79" fill="#808000"/>
<rect x="992.99" y="2249.49" width="37.6" height="53.77" fill="#fdb047"/>
<rect x="992.99" y="2302.95" width="37.6" height="75.15" fill="#00e3ff"/>
<rect x="992.99" y="2377.80" width="37.6" height="80.50" fill="#005ce6"/>
<rect x="1062.72" y="2188.00" width="37.6" height="52.12" fill="#808000"/>
<rect x="1062.72" y="2239.82" width="37.6" height="27.57" fill="#fdb047"/>
<rect x="1062.72" y="2267.09" width="37.6" height="27.57" fill="#00e3ff"/>
<rect x="1062.72" y="2294.36" width="37.6" height="163.94" fill="#005ce6"/>
<rect x="1132.45" y="2188.00" width="37.6" height="67.80" fill="#808000"/>
<rect x="1132.45" y="2255.50" width="37.6" height="62.40" fill="#fdb047"/>
<rect x="1132.45" y="2317.60" width="37.6" height="51.60" fill="#00e3ff"/>
<rect x="1132.45" y="2368.90" width="37.6" height="89.40" fill="#005ce6"/>
<rect x="1202.18" y="2188.00" width="37.6" height="77.82" fill="#808000"/>
<rect x="1202.18" y="2265.52" width="37.6" height="67.13" fill="#fdb047"/>
<rect x="1202.18" y="2332.36" width="37.6" height="61.79" fill="#00e3ff"/>
<rect x="1202.18" y="2393.84" width="37.6" height="64.46" fill="#005ce6"/>
<text x="769.1" y="2233.3" style="font-family:'Liberation Serif',serif;font-weight:bold;font-size:34.5px">26%</text>
<text x="770.0" y="2294.2" style="font-family:'Liberation Serif',serif;font-weight:bold;font-size:34.5px">18%</text>
<text x="770.0" y="2334.9" style="font-family:'Liberation Serif',serif;font-weight:bold;font-size:34.5px">16%</text>
<text x="768.0" y="2417.3" style="font-family:'Liberation Serif',serif;font-weight:bold;font-size:34.5px">39%</text>
<text x="837.8" y="2263.5" style="font-family:'Liberation Serif',serif;font-weight:bold;font-size:34.5px">49%</text>
<text x="837.8" y="2358.6" style="font-family:'Liberation Serif',serif;font-weight:bold;font-size:34.5px">20%</text>
<text x="839.5" y="2408.3" style="font-family:'Liberation Serif',serif;font-weight:bold;font-size:34.5px">16%</text>
<text x="832.4" y="2451.9" style="font-family:'Liberation Serif',serif;font-weight:bold;font-size:34.5px">15%</text>
<text x="906.8" y="2242.8" style="font-family:'Liberation Serif',serif;font-weight:bold;font-size:34.5px">34%</text>
<text x="907.8" y="2323.2" style="font-family:'Liberation Serif',serif;font-weight:bold;font-size:34.5px">25%</text>
<text x="907.8" y="2386.2" style="font-family:'Liberation Serif',serif;font-weight:bold;font-size:34.5px">21%</text>
<text x="907.8" y="2427.0" style="font-family:'Liberation Serif',serif;font-weight:bold;font-size:34.5px">20%</text>
<text x="977.0" y="2228.3" style="font-family:'Liberation Serif',serif;font-weight:bold;font-size:34.5px">23%</text>
<text x="977.0" y="2276.9" style="font-family:'Liberation Serif',serif;font-weight:bold;font-size:34.5px">20%</text>
<text x="977.0" y="2351.4" style="font-family:'Liberation Serif',serif;font-weight:bold;font-size:34.5px">28%</text>
<text x="989.1" y="2443.1" style="font-family:'Liberation Serif',serif;font-weight:bold;font-size:34.5px">30%</text>
<text x="1049.5" y="2222.6" style="font-family:'Liberation Serif',serif;font-weight:bold;font-size:34.5px">19%</text>
<text x="1049.5" y="2262.5" style="font-family:'Liberation Serif',serif;font-weight:bold;font-size:34.5px">10%</text>
<text x="1049.5" y="2296.3" style="font-family:'Liberation Serif',serif;font-weight:bold;font-size:34.5px">10%</text>
<text x="1048.4" y="2388.2" style="font-family:'Liberation Serif',serif;font-weight:bold;font-size:34.5px">60%</text>
<text x="1128.4" y="2253.9" style="font-family:'Liberation Serif',serif;font-weight:bold;font-size:34.5px">25%</text>
<text x="1117.5" y="2320.6" style="font-family:'Liberation Serif',serif;font-weight:bold;font-size:34.5px">23%</text>
<text x="1112.0" y="2361.2" style="font-family:'Liberation Serif',serif;font-weight:bold;font-size:34.5px">19%</text>
<text x="1116.8" y="2450.1" style="font-family:'Liberation Serif',serif;font-weight:bold;font-size:34.5px">33%</text>
<text x="1183.1" y="2216.2" style="font-family:'Liberation Serif',serif;font-weight:bold;font-size:34.5px">29%</text>
<text x="1181.7" y="2292.8" style="font-family:'Liberation Serif',serif;font-weight:bold;font-size:34.5px">25%</text>
<text x="1187.6" y="2374.2" style="font-family:'Liberation Serif',serif;font-weight:bold;font-size:34.5px">23%</text>
<text x="1183.5" y="2424.1" style="font-family:'Liberation Serif',serif;font-weight:bold;font-size:34.5px">24%</text>
<rect x="767.8" y="2186.6" width="488.4" height="272.6" fill="none" stroke="#000" stroke-width="3"/>
<rect x="769.2" y="2241.2" width="2.4" height="1.6" fill="#000"/>
<rect x="769.2" y="2295.2" width="2.4" height="1.6" fill="#000"/>
<rect x="769.2" y="2349.2" width="2.4" height="1.6" fill="#000"/>
<rect x="769.2" y="2403.2" width="2.4" height="1.6" fill="#000"/>
<text x="768.0" y="2490" style="font-family:'Liberation Serif',serif;font-weight:bold;font-size:31.5px">Gross</text>
<text x="855.4" y="2490" style="font-family:'Liberation Serif',serif;font-weight:bold;font-size:31.5px">AM</text>
<text x="930.5" y="2490" style="font-family:'Liberation Serif',serif;font-weight:bold;font-size:31.5px">AS</text>
<text x="996.0" y="2490" style="font-family:'Liberation Serif',serif;font-weight:bold;font-size:31.5px">TM</text>
<text x="1071.6" y="2490" style="font-family:'Liberation Serif',serif;font-weight:bold;font-size:31.5px">TS</text>
<text x="1139.7" y="2490" style="font-family:'Liberation Serif',serif;font-weight:bold;font-size:31.5px">SG</text>
<text x="1212.4" y="2490" style="font-family:'Liberation Serif',serif;font-weight:bold;font-size:31.5px">SS</text>
<rect x="72" y="2542" width="122" height="60.5" fill="#005ce6"/>
<rect x="72" y="2623.2" width="122" height="61.5" fill="#00e3ff"/>
<rect x="667.5" y="2542" width="122.5" height="60.5" fill="#fdb047"/>
<rect x="667.5" y="2623.2" width="122.5" height="61.5" fill="#808000"/>
<text x="217" y="2600" style="font-family:'Liberation Serif',serif;font-weight:bold;font-size:65.3px">Precipitation</text>
<text x="216" y="2680.6" style="font-family:'Liberation Serif',serif;font-weight:bold;font-size:65.3px">Solar radiation</text>
<text x="812" y="2601.4" style="font-family:'Liberation Serif',serif;font-weight:bold;font-size:65.3px">Temperature</text>
<text x="812" y="2682" style="font-family:'Liberation Serif',serif;font-weight:bold;font-size:65.3px">VPD</text>
</svg>
</body></html>
